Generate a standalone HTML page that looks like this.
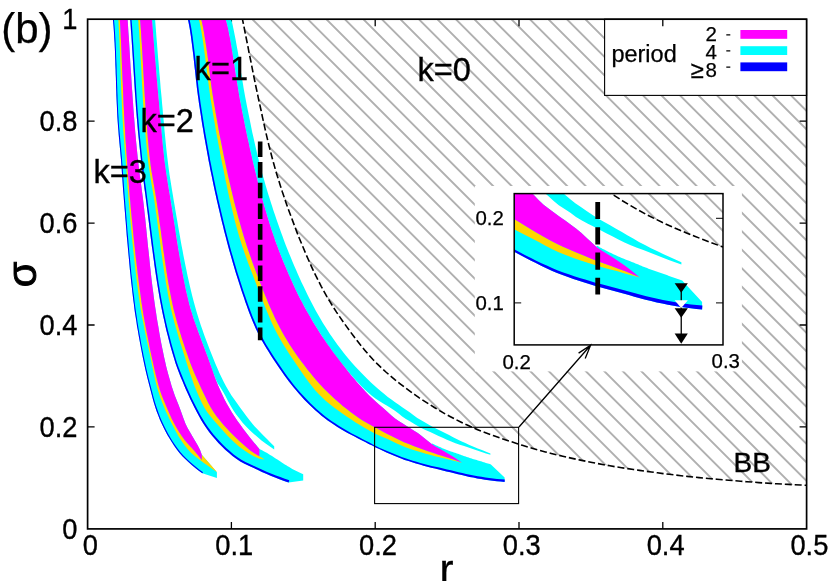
<!DOCTYPE html>
<html><head><meta charset="utf-8"><title>chart</title>
<style>html,body{margin:0;padding:0;background:#fff;}.b{stroke:#000;stroke-width:0.35px}.c{stroke:#000;stroke-width:0.25px}svg{display:block;will-change:transform;font-family:"Liberation Sans",sans-serif;}</style></head>
<body>
<svg width="830" height="581" viewBox="0 0 830 581">
<defs>
<clipPath id="cpMain"><rect x="87.60" y="19.20" width="719.00" height="509.70"/></clipPath>
<clipPath id="cpIn"><rect x="514.20" y="193.60" width="208.80" height="151.30"/></clipPath>
<clipPath id="cpH"><path d="M242.0 17.0L243.2 22.9L244.4 28.8L245.5 34.6L246.7 40.5L247.9 46.4L249.0 52.3L250.2 58.2L251.4 64.0L252.5 69.9L253.7 75.8L254.9 81.7L256.1 87.5L257.4 93.4L258.6 99.3L259.9 105.1L261.2 111.0L262.4 116.8L263.7 122.7L265.0 128.6L266.3 134.4L267.7 140.3L269.1 146.1L270.6 151.9L272.1 157.7L273.7 163.5L275.3 169.2L277.0 175.0L278.8 180.7L280.6 186.4L282.4 192.1L284.4 197.8L286.3 203.5L288.3 209.2L290.4 214.8L292.5 220.4L294.6 226.0L296.7 231.6L298.9 237.2L301.2 242.7L303.5 248.3L305.8 253.8L308.2 259.3L310.7 264.8L313.2 270.3L315.8 275.7L318.5 281.0L321.2 286.3L324.1 291.6L327.0 296.8L330.1 301.9L333.2 307.0L336.5 312.1L339.9 317.1L343.3 322.0L346.8 326.9L350.3 331.7L353.9 336.5L357.6 341.3L361.3 346.0L365.2 350.7L369.1 355.2L373.2 359.7L377.3 363.9L381.6 368.0L385.9 372.0L390.5 376.0L395.1 379.9L399.8 383.6L404.6 387.3L409.5 390.9L414.4 394.4L419.3 397.8L424.3 401.1L429.3 404.3L434.4 407.5L439.5 410.6L444.7 413.6L450.0 416.5L455.3 419.3L460.7 422.0L466.1 424.6L471.5 427.0L477.0 429.4L482.6 431.6L488.2 433.7L493.9 435.8L499.5 437.8L505.2 439.7L510.9 441.6L516.6 443.5L522.3 445.3L528.1 447.0L533.8 448.7L539.6 450.4L545.4 451.9L551.2 453.4L557.0 454.9L562.8 456.2L568.7 457.6L574.5 458.9L580.4 460.1L586.3 461.3L592.1 462.5L598.0 463.6L603.9 464.7L609.9 465.8L615.8 466.8L621.7 467.7L627.6 468.6L633.5 469.5L639.4 470.4L645.4 471.2L651.3 472.0L657.3 472.8L663.2 473.6L669.2 474.3L675.1 475.0L681.1 475.7L687.1 476.4L693.0 477.0L699.0 477.6L704.9 478.1L710.9 478.7L716.9 479.2L722.8 479.7L728.8 480.2L734.8 480.7L740.8 481.2L746.7 481.7L752.7 482.1L758.7 482.6L764.7 483.0L770.7 483.4L776.6 483.8L782.6 484.1L788.6 484.4L794.6 484.8L800.6 485.0L806.6 485.3L806.6 17.2Z"/></clipPath>
<clipPath id="cpHi"><path d="M320.8 -462.2L322.5 -452.4L324.2 -442.6L325.9 -432.9L327.6 -423.1L329.3 -413.4L331.0 -403.6L332.7 -393.8L334.4 -384.1L336.1 -374.3L337.8 -364.6L339.6 -354.8L341.3 -345.1L343.1 -335.3L345.0 -325.6L346.8 -315.9L348.6 -306.2L350.5 -296.4L352.3 -286.7L354.2 -277.0L356.1 -267.2L358.1 -257.6L360.1 -247.9L362.3 -238.2L364.5 -228.6L366.8 -219.1L369.1 -209.5L371.6 -200.0L374.2 -190.5L376.8 -181.0L379.5 -171.5L382.3 -162.0L385.2 -152.6L388.1 -143.2L391.0 -133.8L394.1 -124.5L397.1 -115.2L400.2 -106.0L403.4 -96.7L406.7 -87.5L410.0 -78.3L413.4 -69.1L416.9 -59.9L420.5 -50.8L424.2 -41.8L428.0 -32.8L431.9 -23.9L435.9 -15.1L439.9 -6.4L444.2 2.2L448.7 10.8L453.3 19.3L458.0 27.7L462.9 36.0L467.9 44.2L472.9 52.3L478.0 60.3L483.2 68.2L488.6 76.2L494.0 84.0L499.6 91.7L505.4 99.3L511.2 106.6L517.2 113.7L523.4 120.5L529.8 127.2L536.4 133.7L543.1 140.1L549.9 146.4L556.9 152.5L563.9 158.4L571.1 164.2L578.2 169.9L585.4 175.4L592.7 180.7L600.1 186.0L607.6 191.1L615.2 196.1L622.8 201.0L630.6 205.6L638.3 210.1L646.2 214.4L654.1 218.4L662.1 222.3L670.2 226.0L678.3 229.6L686.5 233.0L694.7 236.3L703.0 239.5L711.2 242.6L719.5 245.7L727.8 248.7L736.2 251.6L744.5 254.4L752.9 257.1L761.3 259.7L769.7 262.2L778.2 264.6L786.6 266.9L795.1 269.1L803.6 271.2L812.1 273.3L820.7 275.3L829.2 277.3L837.8 279.2L846.3 281.0L854.9 282.7L863.5 284.4L872.1 286.0L880.7 287.5L889.3 289.0L897.9 290.4L906.5 291.8L915.1 293.1L923.8 294.4L932.4 295.7L941.1 296.9L949.7 298.1L958.4 299.2L967.0 300.3L975.7 301.3L984.3 302.3L993.0 303.2L1001.7 304.1L1010.3 305.0L1019.0 305.9L1027.7 306.7L1036.3 307.5L1045.0 308.3L1053.7 309.1L1062.4 309.9L1071.0 310.6L1079.7 311.3L1088.4 311.9L1097.1 312.6L1105.8 313.2L1114.5 313.7L1123.2 314.2L1131.9 314.7L1140.6 315.1L1140.6 -461.8Z"/></clipPath>
</defs>
<rect width="830" height="581" fill="#fff"/>
<g clip-path="url(#cpMain)">
<g clip-path="url(#cpH)"><path d="M-451.40 0.00L148.60 600.00M-432.90 0.00L167.10 600.00M-414.40 0.00L185.60 600.00M-395.90 0.00L204.10 600.00M-377.40 0.00L222.60 600.00M-358.90 0.00L241.10 600.00M-340.40 0.00L259.60 600.00M-321.90 0.00L278.10 600.00M-303.40 0.00L296.60 600.00M-284.90 0.00L315.10 600.00M-266.40 0.00L333.60 600.00M-247.90 0.00L352.10 600.00M-229.40 0.00L370.60 600.00M-210.90 0.00L389.10 600.00M-192.40 0.00L407.60 600.00M-173.90 0.00L426.10 600.00M-155.40 0.00L444.60 600.00M-136.90 0.00L463.10 600.00M-118.40 0.00L481.60 600.00M-99.90 0.00L500.10 600.00M-81.40 0.00L518.60 600.00M-62.90 0.00L537.10 600.00M-44.40 0.00L555.60 600.00M-25.90 0.00L574.10 600.00M-7.40 0.00L592.60 600.00M11.10 0.00L611.10 600.00M29.60 0.00L629.60 600.00M48.10 0.00L648.10 600.00M66.60 0.00L666.60 600.00M85.10 0.00L685.10 600.00M103.60 0.00L703.60 600.00M122.10 0.00L722.10 600.00M140.60 0.00L740.60 600.00M159.10 0.00L759.10 600.00M177.60 0.00L777.60 600.00M196.10 0.00L796.10 600.00M214.60 0.00L814.60 600.00M233.10 0.00L833.10 600.00M251.60 0.00L851.60 600.00M270.10 0.00L870.10 600.00M288.60 0.00L888.60 600.00M307.10 0.00L907.10 600.00M325.60 0.00L925.60 600.00M344.10 0.00L944.10 600.00M362.60 0.00L962.60 600.00M381.10 0.00L981.10 600.00M399.60 0.00L999.60 600.00M418.10 0.00L1018.10 600.00M436.60 0.00L1036.60 600.00M455.10 0.00L1055.10 600.00M473.60 0.00L1073.60 600.00M492.10 0.00L1092.10 600.00M510.60 0.00L1110.60 600.00M529.10 0.00L1129.10 600.00M547.60 0.00L1147.60 600.00M566.10 0.00L1166.10 600.00M584.60 0.00L1184.60 600.00M603.10 0.00L1203.10 600.00M621.60 0.00L1221.60 600.00M640.10 0.00L1240.10 600.00M658.60 0.00L1258.60 600.00M677.10 0.00L1277.10 600.00M695.60 0.00L1295.60 600.00M714.10 0.00L1314.10 600.00M732.60 0.00L1332.60 600.00M751.10 0.00L1351.10 600.00M769.60 0.00L1369.60 600.00M788.10 0.00L1388.10 600.00M806.60 0.00L1406.60 600.00M825.10 0.00L1425.10 600.00M843.60 0.00L1443.60 600.00M862.10 0.00L1462.10 600.00M880.60 0.00L1480.60 600.00M899.10 0.00L1499.10 600.00" stroke="#b0b0b0" stroke-width="1.9" fill="none"/></g>
</g>
<rect x="604.6" y="19.20" width="202.00" height="76.20" fill="#fff" stroke="#000" stroke-width="1.1"/>
<path d="M231.40 528.90v-7M231.40 19.20v7M375.20 528.90v-7M375.20 19.20v7M519.00 528.90v-7M519.00 19.20v7M662.80 528.90v-7M662.80 19.20v7M87.60 426.96h7M806.60 426.96h-7M87.60 325.02h7M806.60 325.02h-7M87.60 223.08h7M806.60 223.08h-7M87.60 121.14h7M806.60 121.14h-7" stroke="#000" stroke-width="1.3" fill="none"/>
<g clip-path="url(#cpMain)">
<path d="M187.3 17.0L188.2 20.8L189.0 24.7L189.7 28.6L190.3 32.4L190.9 36.3L191.4 40.2L191.9 44.1L192.4 48.0L192.9 52.0L193.4 55.9L193.8 59.8L194.2 63.7L194.6 67.6L195.1 71.6L195.5 75.5L195.9 79.4L196.4 83.3L196.8 87.3L197.3 91.2L197.8 95.1L198.4 99.0L198.9 102.9L199.5 106.8L200.1 110.7L200.7 114.6L201.3 118.5L201.9 122.4L202.5 126.3L203.2 130.1L203.8 134.0L204.5 137.9L205.2 141.8L205.9 145.7L206.6 149.6L207.3 153.4L208.0 157.3L208.7 161.2L209.5 165.0L210.2 168.9L211.0 172.8L211.8 176.6L212.6 180.5L213.4 184.4L214.2 188.2L215.0 192.1L215.9 195.9L216.7 199.8L217.6 203.6L218.5 207.5L219.4 211.3L220.3 215.2L221.2 219.0L222.1 222.8L223.1 226.6L224.0 230.5L225.0 234.3L226.0 238.1L227.0 241.9L228.0 245.7L229.0 249.5L230.1 253.3L231.2 257.1L232.3 260.9L233.4 264.7L234.5 268.5L235.6 272.2L236.8 276.0L238.0 279.8L239.2 283.5L240.4 287.3L241.6 291.0L242.9 294.7L244.2 298.5L245.4 302.2L246.8 305.9L248.1 309.7L249.5 313.4L250.9 317.1L252.4 320.7L253.9 324.3L255.5 327.9L257.2 331.4L258.9 334.9L260.8 338.4L262.7 341.9L264.6 345.3L266.7 348.7L268.8 352.1L270.9 355.4L273.0 358.7L275.2 362.0L277.4 365.3L279.6 368.6L281.9 371.8L284.1 375.0L286.5 378.2L288.9 381.4L291.3 384.5L293.7 387.6L296.3 390.6L298.8 393.6L301.5 396.5L304.1 399.4L306.9 402.2L309.7 405.0L312.6 407.8L315.5 410.5L318.5 413.1L321.5 415.7L324.5 418.1L327.7 420.4L330.8 422.6L334.1 424.8L337.4 426.9L340.7 428.9L344.1 430.9L347.6 432.9L351.1 434.8L354.6 436.6L358.1 438.5L361.6 440.3L365.2 442.1L368.7 443.9L372.3 445.6L375.8 447.4L379.3 449.1L382.9 450.8L386.5 452.4L390.1 454.0L393.7 455.5L397.4 457.1L401.1 458.5L404.7 459.9L408.5 461.1L412.2 462.3L416.0 463.5L419.8 464.6L423.6 465.7L427.4 466.7L431.2 467.7L435.0 468.6L438.9 469.6L442.7 470.5L446.5 471.4L450.4 472.3L454.2 473.2L458.0 474.2L461.8 475.1L465.7 476.0L469.5 476.9L473.4 477.6L477.3 478.4L481.1 479.0L485.0 479.7L488.9 480.2L492.8 480.7L496.8 481.2L500.7 481.6L504.6 482.0L504.6 477.4L490.9 464.4L489.9 464.1L488.9 463.8L487.9 463.5L486.9 463.2L485.9 462.9L484.8 462.6L483.8 462.2L482.8 461.9L481.8 461.6L480.8 461.3L479.8 461.0L478.8 460.7L477.8 460.4L476.8 460.1L475.8 459.8L474.8 459.5L473.7 459.2L472.7 458.9L471.7 458.6L470.7 458.3L469.7 457.9L468.7 457.6L467.7 457.3L466.7 457.0L465.7 456.6L464.7 456.3L463.7 455.9L462.7 455.6L461.7 455.2L460.7 454.8L459.7 454.5L458.8 454.1L457.8 453.8L456.8 453.4L455.8 453.1L454.8 452.8L453.8 452.4L452.8 452.1L451.8 451.7L450.8 451.4L449.8 451.0L448.8 450.7L447.8 450.3L446.8 449.9L445.8 449.5L444.9 449.2L443.9 448.8L442.9 448.4L441.9 448.0L441.0 447.5L440.0 447.1L439.0 446.7L438.1 446.3L437.1 445.8L436.2 445.4L435.2 444.9L434.3 444.5L433.3 444.0L432.4 443.5L431.7 444.1L428.2 441.3L424.8 438.5L421.4 435.7L417.8 433.1L414.1 430.7L410.3 428.3L406.6 426.0L402.8 423.6L399.1 421.2L395.4 418.8L392.0 415.9L388.7 413.0L385.4 410.0L382.0 407.1L378.7 404.2L375.4 401.3L372.2 398.3L369.0 395.2L365.9 392.0L362.9 388.8L360.0 385.5L357.0 382.2L354.2 378.8L351.3 375.4L348.5 372.0L345.8 368.5L343.0 365.0L340.3 361.5L337.6 358.0L334.9 354.5L332.3 350.9L329.7 347.3L327.1 343.7L324.6 340.1L322.1 336.4L319.7 332.7L317.4 329.0L315.0 325.2L312.7 321.4L310.5 317.6L308.3 313.8L306.1 309.9L303.9 306.0L301.9 302.1L299.8 298.2L297.8 294.2L295.9 290.3L294.0 286.3L292.2 282.3L290.4 278.2L288.6 274.2L286.8 270.1L285.1 266.0L283.4 261.9L281.7 257.8L280.1 253.7L278.5 249.5L277.0 245.4L275.4 241.2L274.0 237.0L272.6 232.9L271.2 228.7L269.8 224.5L268.5 220.3L267.2 216.0L266.0 211.8L264.7 207.6L263.5 203.3L262.3 199.0L261.2 194.7L260.0 190.5L258.9 186.2L257.8 181.9L256.7 177.6L255.7 173.3L254.6 169.0L253.6 164.7L252.6 160.4L251.6 156.0L250.6 151.7L249.6 147.4L248.7 143.1L247.7 138.8L246.8 134.4L245.9 130.1L245.0 125.8L244.2 121.4L243.3 117.1L242.4 112.7L241.6 108.4L240.8 104.0L239.9 99.7L239.1 95.3L238.4 91.0L237.7 86.6L237.0 82.2L236.3 77.9L235.6 73.5L234.9 69.1L234.3 64.7L233.6 60.3L232.9 56.0L232.2 51.6L231.5 47.2L230.8 42.9L230.0 38.5L229.1 34.2L228.3 29.8L227.3 25.5L226.2 21.3L225.0 17.0Z" fill="#00ffff"/>
<path d="M225.0 17.0L226.3 21.4L227.4 25.9L228.4 30.4L229.3 34.8L230.1 39.4L230.9 43.9L231.7 48.4L232.4 52.9L233.2 57.5L233.9 62.0L234.6 66.6L235.3 71.1L235.9 75.7L236.6 80.3L237.4 84.8L238.1 89.3L238.9 93.9L239.7 98.4L240.6 102.9L241.4 107.4L242.3 111.9L243.2 116.5L244.1 121.0L245.0 125.5L245.9 130.0L246.8 134.5L247.8 139.0L248.8 143.5L249.7 148.0L250.8 152.5L251.8 156.9L252.8 161.4L253.9 165.9L255.0 170.4L256.1 174.8L257.2 179.3L258.3 183.8L259.5 188.2L260.6 192.7L261.8 197.1L263.0 201.6L264.3 206.0L265.6 210.4L266.9 214.8L268.2 219.2L269.5 223.6L270.9 228.0L272.4 232.3L273.8 236.7L275.4 241.0L276.9 245.3L278.5 249.6L280.2 253.9L281.9 258.2L283.6 262.5L285.4 266.8L287.2 271.0L289.0 275.2L290.9 279.4L292.8 283.6L294.7 287.8L296.7 291.9L298.7 296.0L300.8 300.1L303.0 304.2L305.2 308.2L307.4 312.3L309.7 316.3L312.0 320.3L314.4 324.2L316.8 328.1L319.3 332.0L321.7 335.8L324.3 339.7L326.9 343.5L329.5 347.3L332.2 351.0L335.0 354.7L337.7 358.4L340.6 362.0L343.4 365.6L346.4 369.1L349.3 372.7L352.3 376.2L355.4 379.7L358.5 383.1L361.7 386.4L365.0 389.7L368.4 392.7L371.8 395.7L375.4 398.4L379.2 400.9L383.2 403.4L387.1 405.8L391.1 408.2L394.9 410.7L398.6 413.5L402.2 416.4L405.9 419.1L409.9 421.3L413.9 423.7L417.7 426.1L421.8 428.3L426.0 430.2L430.2 432.1L434.4 434.0L438.5 435.9L442.7 437.8L446.9 439.7L451.2 441.5L455.4 443.2L459.8 444.7L464.1 446.1L468.5 447.6L472.8 449.1L477.2 450.6L481.6 452.0L486.0 453.4L490.4 454.7L490.4 453.4L486.1 451.8L481.9 450.1L477.7 448.4L473.6 446.7L469.4 445.0L465.3 443.1L461.2 441.2L457.1 439.2L453.1 437.2L449.1 435.1L445.0 433.0L441.0 431.1L436.9 429.1L432.9 427.0L428.9 424.8L425.1 422.5L421.2 420.2L417.3 417.9L413.6 415.3L410.0 412.6L406.3 410.0L402.6 407.4L398.8 404.8L395.1 402.2L391.4 399.6L387.8 396.9L384.3 394.1L380.9 391.2L377.4 388.3L374.0 385.2L370.7 382.2L367.4 379.0L364.2 375.8L361.0 372.6L357.9 369.3L354.8 366.0L351.9 362.7L348.9 359.3L346.0 355.8L343.2 352.2L340.4 348.6L337.7 345.0L335.0 341.3L332.4 337.6L329.9 333.9L327.4 330.1L325.0 326.3L322.6 322.5L320.3 318.6L318.1 314.7L315.8 310.7L313.7 306.7L311.6 302.7L309.5 298.7L307.5 294.7L305.5 290.6L303.6 286.5L301.6 282.5L299.8 278.4L297.9 274.2L296.1 270.1L294.3 265.9L292.5 261.8L290.8 257.6L289.1 253.4L287.4 249.2L285.7 245.0L284.1 240.7L282.6 236.5L281.0 232.3L279.5 228.0L278.0 223.8L276.5 219.5L275.1 215.2L273.6 210.9L272.2 206.6L270.8 202.3L269.5 198.0L268.1 193.7L266.8 189.3L265.5 185.0L264.3 180.6L263.0 176.3L261.8 171.9L260.7 167.6L259.5 163.2L258.4 158.8L257.3 154.5L256.3 150.1L255.3 145.7L254.3 141.3L253.3 136.8L252.3 132.4L251.4 128.0L250.5 123.6L249.6 119.1L248.7 114.7L247.8 110.3L246.9 105.8L246.1 101.4L245.2 97.0L244.4 92.5L243.6 88.1L242.9 83.6L242.1 79.1L241.4 74.7L240.7 70.2L240.0 65.7L239.3 61.2L238.6 56.8L237.9 52.3L237.1 47.9L236.3 43.4L235.5 39.0L234.6 34.5L233.7 30.1L232.8 25.7L231.7 21.3L230.4 17.0Z" fill="#00ffff"/>
<path d="M198.3 17.0L199.5 22.0L200.6 27.0L201.5 32.1L202.3 37.1L203.1 42.2L203.8 47.3L204.5 52.4L205.2 57.5L205.8 62.6L206.4 67.8L207.1 72.9L207.7 78.0L208.4 83.1L209.1 88.2L209.8 93.3L210.5 98.4L211.4 103.5L212.2 108.5L213.0 113.6L213.9 118.7L214.8 123.8L215.6 128.8L216.5 133.9L217.5 139.0L218.4 144.0L219.4 149.1L220.3 154.1L221.3 159.2L222.3 164.2L223.4 169.3L224.4 174.3L225.4 179.4L226.5 184.4L227.5 189.5L228.6 194.5L229.7 199.6L230.9 204.6L232.1 209.6L233.3 214.6L234.5 219.6L235.8 224.5L237.2 229.5L238.6 234.4L240.0 239.3L241.6 244.2L243.2 249.1L244.9 254.0L246.6 258.8L248.4 263.7L250.2 268.5L252.1 273.3L253.9 278.1L255.8 282.9L257.6 287.7L259.5 292.5L261.3 297.3L263.2 302.2L265.1 307.0L267.1 311.7L269.1 316.5L271.1 321.2L273.3 325.9L275.5 330.4L277.9 335.0L280.4 339.5L283.0 343.9L285.7 348.3L288.5 352.7L291.3 357.0L294.2 361.3L297.1 365.5L300.0 369.8L302.9 374.1L305.9 378.3L309.0 382.5L312.2 386.6L315.4 390.5L318.9 394.2L322.5 397.8L326.2 401.2L330.2 404.5L334.3 407.7L338.5 410.8L342.7 413.8L347.0 416.7L351.3 419.6L355.6 422.4L359.9 425.1L364.4 427.7L368.9 430.3L373.4 432.7L378.0 435.0L382.7 437.0L387.5 439.1L392.2 441.2L396.8 443.5L401.4 445.6L406.2 447.5L411.1 449.2L416.0 450.8L420.9 452.3L425.8 453.8L430.8 455.1L435.8 456.4L440.8 457.6L445.8 458.8L450.8 460.0L455.8 461.2L460.8 462.4L461.8 462.5L457.0 460.8L452.2 459.1L447.3 457.4L442.5 455.9L437.6 454.4L432.8 452.8L428.0 451.2L423.2 449.4L418.4 447.7L413.6 445.9L408.8 444.1L404.1 442.2L399.5 440.1L394.9 437.8L390.4 435.5L385.8 433.2L381.3 430.8L376.9 428.3L372.4 425.9L367.9 423.5L363.5 420.9L359.2 418.2L355.0 415.3L350.9 412.3L346.8 409.1L342.8 405.9L338.9 402.6L335.1 399.2L331.4 395.8L327.7 392.3L324.1 388.7L320.6 385.0L317.2 381.2L313.8 377.3L310.6 373.3L307.4 369.4L304.3 365.3L301.2 361.3L298.2 357.2L295.3 353.0L292.4 348.7L289.6 344.4L286.9 340.1L284.3 335.7L281.8 331.3L279.4 326.8L277.1 322.3L274.9 317.7L272.8 313.1L270.7 308.4L268.6 303.7L266.7 299.0L264.7 294.3L262.8 289.6L261.0 284.8L259.1 280.1L257.3 275.3L255.5 270.6L253.7 265.8L252.0 261.0L250.3 256.1L248.6 251.3L247.0 246.5L245.4 241.6L243.9 236.8L242.5 231.9L241.0 227.0L239.7 222.1L238.3 217.2L237.0 212.3L235.7 207.4L234.4 202.4L233.2 197.5L232.0 192.5L230.8 187.5L229.7 182.6L228.5 177.6L227.4 172.6L226.3 167.6L225.3 162.7L224.2 157.7L223.2 152.7L222.2 147.7L221.2 142.7L220.2 137.7L219.2 132.7L218.3 127.7L217.4 122.7L216.5 117.6L215.6 112.6L214.8 107.6L213.9 102.6L213.1 97.5L212.3 92.5L211.6 87.5L210.9 82.4L210.2 77.3L209.6 72.3L209.0 67.2L208.3 62.1L207.7 57.1L207.0 52.0L206.3 47.0L205.5 41.9L204.7 36.9L203.9 31.9L203.0 26.9L201.9 21.9L200.6 17.0Z" fill="#ffd700"/>
<path d="M200.6 17.0L201.9 21.9L203.0 26.9L203.9 31.9L204.7 36.9L205.5 41.9L206.3 47.0L207.0 52.0L207.7 57.1L208.3 62.1L209.0 67.2L209.6 72.3L210.2 77.3L210.9 82.4L211.6 87.5L212.3 92.5L213.1 97.5L213.9 102.6L214.8 107.6L215.6 112.6L216.5 117.6L217.4 122.7L218.3 127.7L219.2 132.7L220.2 137.7L221.2 142.7L222.2 147.7L223.2 152.7L224.2 157.7L225.3 162.7L226.3 167.6L227.4 172.6L228.5 177.6L229.7 182.6L230.8 187.5L232.0 192.5L233.2 197.5L234.4 202.4L235.7 207.4L237.0 212.3L238.3 217.2L239.7 222.1L241.0 227.0L242.5 231.9L243.9 236.8L245.4 241.6L247.0 246.5L248.6 251.3L250.3 256.1L252.0 261.0L253.7 265.8L255.5 270.6L257.3 275.3L259.1 280.1L261.0 284.8L262.8 289.6L264.7 294.3L266.7 299.0L268.6 303.7L270.7 308.4L272.8 313.1L274.9 317.7L277.1 322.3L279.4 326.8L281.8 331.3L284.3 335.7L286.9 340.1L289.6 344.4L292.4 348.7L295.3 353.0L298.2 357.2L301.2 361.3L304.3 365.3L307.4 369.4L310.6 373.3L313.8 377.3L317.2 381.2L320.6 385.0L324.1 388.7L327.7 392.3L331.4 395.8L335.1 399.2L338.9 402.6L342.8 405.9L346.8 409.1L350.9 412.3L355.0 415.3L359.2 418.2L363.5 420.9L367.9 423.5L372.4 425.9L376.9 428.3L381.3 430.8L385.8 433.2L390.4 435.5L394.9 437.8L399.5 440.1L404.1 442.2L408.8 444.1L413.6 445.9L418.4 447.7L423.2 449.4L428.0 451.2L432.8 452.8L437.6 454.4L442.5 455.9L447.3 457.4L452.2 459.1L457.0 460.8L461.8 462.5L461.8 462.6L458.2 460.0L454.5 457.5L450.8 455.2L447.0 452.9L443.2 450.7L439.3 448.5L435.4 446.4L431.7 444.1L428.2 441.3L424.8 438.5L421.4 435.7L417.8 433.1L414.1 430.7L410.3 428.3L406.6 426.0L402.8 423.6L399.1 421.2L395.4 418.8L392.0 415.9L388.7 413.0L385.4 410.0L382.0 407.1L378.7 404.2L375.4 401.3L372.2 398.3L369.0 395.2L365.9 392.0L362.9 388.8L360.0 385.5L357.0 382.2L354.2 378.8L351.3 375.4L348.5 372.0L345.8 368.5L343.0 365.0L340.3 361.5L337.6 358.0L334.9 354.5L332.3 350.9L329.7 347.3L327.1 343.7L324.6 340.1L322.1 336.4L319.7 332.7L317.4 329.0L315.0 325.2L312.7 321.4L310.5 317.6L308.3 313.8L306.1 309.9L303.9 306.0L301.9 302.1L299.8 298.2L297.8 294.2L295.9 290.3L294.0 286.3L292.2 282.3L290.4 278.2L288.6 274.2L286.8 270.1L285.1 266.0L283.4 261.9L281.7 257.8L280.1 253.7L278.5 249.5L277.0 245.4L275.4 241.2L274.0 237.0L272.6 232.9L271.2 228.7L269.8 224.5L268.5 220.3L267.2 216.0L266.0 211.8L264.7 207.6L263.5 203.3L262.3 199.0L261.2 194.7L260.0 190.5L258.9 186.2L257.8 181.9L256.7 177.6L255.7 173.3L254.6 169.0L253.6 164.7L252.6 160.4L251.6 156.0L250.6 151.7L249.6 147.4L248.7 143.1L247.7 138.8L246.8 134.4L245.9 130.1L245.0 125.8L244.2 121.4L243.3 117.1L242.4 112.7L241.6 108.4L240.8 104.0L239.9 99.7L239.1 95.3L238.4 91.0L237.7 86.6L237.0 82.2L236.3 77.9L235.6 73.5L234.9 69.1L234.3 64.7L233.6 60.3L232.9 56.0L232.2 51.6L231.5 47.2L230.8 42.9L230.0 38.5L229.1 34.2L228.3 29.8L227.3 25.5L226.2 21.3L225.0 17.0Z" fill="#ff00ff"/>
<path d="M187.3 17.0L188.2 20.8L189.0 24.7L189.7 28.6L190.3 32.4L190.9 36.3L191.4 40.2L191.9 44.1L192.4 48.0L192.9 52.0L193.4 55.9L193.8 59.8L194.2 63.7L194.6 67.6L195.1 71.6L195.5 75.5L195.9 79.4L196.4 83.3L196.8 87.3L197.3 91.2L197.8 95.1L198.4 99.0L198.9 102.9L199.5 106.8L200.1 110.7L200.7 114.6L201.3 118.5L201.9 122.4L202.5 126.3L203.2 130.1L203.8 134.0L204.5 137.9L205.2 141.8L205.9 145.7L206.6 149.6L207.3 153.4L208.0 157.3L208.7 161.2L209.5 165.0L210.2 168.9L211.0 172.8L211.8 176.6L212.6 180.5L213.4 184.4L214.2 188.2L215.0 192.1L215.9 195.9L216.7 199.8L217.6 203.6L218.5 207.5L219.4 211.3L220.3 215.2L221.2 219.0L222.1 222.8L223.1 226.6L224.0 230.5L225.0 234.3L226.0 238.1L227.0 241.9L228.0 245.7L229.0 249.5L230.1 253.3L231.2 257.1L232.3 260.9L233.4 264.7L234.5 268.5L235.6 272.2L236.8 276.0L238.0 279.8L239.2 283.5L240.4 287.3L241.6 291.0L242.9 294.7L244.2 298.5L245.4 302.2L246.8 305.9L248.1 309.7L249.5 313.4L250.9 317.1L252.4 320.7L253.9 324.3L255.5 327.9L257.2 331.4L258.9 334.9L260.8 338.4L262.7 341.9L264.6 345.3L266.7 348.7L268.8 352.1L270.9 355.4L273.0 358.7L275.2 362.0L277.4 365.3L279.6 368.6L281.9 371.8L284.1 375.0L286.5 378.2L288.9 381.4L291.3 384.5L293.7 387.6L296.3 390.6L298.8 393.6L301.5 396.5L304.1 399.4L306.9 402.2L309.7 405.0L312.6 407.8L315.5 410.5L318.5 413.1L321.5 415.7L324.5 418.1L327.7 420.4L330.8 422.6L334.1 424.8L337.4 426.9L340.7 428.9L344.1 430.9L347.6 432.9L351.1 434.8L354.6 436.6L358.1 438.5L361.6 440.3L365.2 442.1L368.7 443.9L372.3 445.6L375.8 447.4L379.3 449.1L382.9 450.8L386.5 452.4L390.1 454.0L393.7 455.5L397.4 457.1L401.1 458.5L404.7 459.9L408.5 461.1L412.2 462.3L416.0 463.5L419.8 464.6L423.6 465.7L427.4 466.7L431.2 467.7L435.0 468.6L438.9 469.6L442.7 470.5L446.5 471.4L450.4 472.3L454.2 473.2L458.0 474.2L461.8 475.1L465.7 476.0L469.5 476.9L473.4 477.6L477.3 478.4L481.1 479.0L485.0 479.7L488.9 480.2L492.8 480.7L496.8 481.2L500.7 481.6L504.6 482.0L504.8 479.6L500.9 479.3L497.0 478.9L493.1 478.4L489.2 478.0L485.4 477.4L481.5 476.8L477.7 476.2L473.8 475.5L470.0 474.7L466.1 473.9L462.3 473.1L458.5 472.2L454.7 471.2L450.9 470.3L447.0 469.4L443.2 468.5L439.3 467.6L435.5 466.8L431.7 465.9L427.9 464.9L424.1 463.9L420.3 462.9L416.5 461.8L412.7 460.7L409.0 459.5L405.3 458.3L401.6 457.0L398.0 455.6L394.3 454.1L390.7 452.6L387.1 451.1L383.5 449.5L379.9 447.9L376.4 446.2L372.9 444.4L369.4 442.6L365.8 440.8L362.3 439.0L358.8 437.1L355.3 435.3L351.8 433.4L348.4 431.4L345.0 429.5L341.6 427.5L338.3 425.4L335.0 423.3L331.8 421.2L328.7 419.0L325.6 416.7L322.6 414.3L319.6 411.8L316.7 409.2L313.8 406.5L310.9 403.8L308.2 401.0L305.4 398.1L302.8 395.3L300.2 392.4L297.6 389.5L295.1 386.5L292.7 383.4L290.3 380.3L287.9 377.2L285.6 374.0L283.3 370.8L281.1 367.6L278.9 364.3L276.7 361.1L274.5 357.8L272.4 354.5L270.2 351.1L268.2 347.8L266.1 344.4L264.2 341.0L262.3 337.6L260.5 334.2L258.7 330.7L257.1 327.2L255.5 323.6L254.0 320.1L252.5 316.4L251.1 312.8L249.7 309.1L248.4 305.4L247.1 301.7L245.8 297.9L244.5 294.2L243.2 290.5L242.0 286.7L240.8 283.0L239.6 279.3L238.4 275.5L237.2 271.7L236.1 268.0L235.0 264.2L233.9 260.4L232.8 256.6L231.7 252.9L230.6 249.1L229.6 245.3L228.6 241.5L227.6 237.7L226.6 233.9L225.6 230.0L224.7 226.2L223.7 222.4L222.8 218.6L221.9 214.8L221.0 210.9L220.1 207.1L219.2 203.3L218.3 199.4L217.5 195.6L216.6 191.7L215.8 187.9L215.0 184.0L214.2 180.2L213.4 176.3L212.6 172.5L211.8 168.6L211.1 164.7L210.3 160.9L209.6 157.0L208.9 153.1L208.2 149.3L207.5 145.4L206.8 141.5L206.1 137.6L205.4 133.8L204.8 129.9L204.1 126.0L203.5 122.1L202.9 118.2L202.3 114.3L201.7 110.4L201.1 106.5L200.5 102.7L200.0 98.8L199.4 94.9L198.9 91.0L198.4 87.1L198.0 83.2L197.5 79.2L197.1 75.3L196.7 71.4L196.2 67.5L195.8 63.5L195.4 59.6L195.0 55.7L194.5 51.8L194.0 47.8L193.5 43.9L193.0 40.0L192.5 36.1L191.9 32.2L191.3 28.3L190.6 24.4L189.8 20.5L188.9 16.6Z" fill="#0000ff"/>
<path d="M130.0 17.0L130.4 21.8L130.7 26.6L131.0 31.3L131.4 36.1L131.7 40.9L132.0 45.7L132.3 50.5L132.6 55.3L132.9 60.0L133.2 64.8L133.5 69.6L133.8 74.4L134.1 79.2L134.4 84.0L134.7 88.7L135.0 93.5L135.4 98.3L135.7 103.1L136.0 107.9L136.4 112.6L136.8 117.4L137.2 122.2L137.6 127.0L138.0 131.7L138.5 136.5L139.0 141.3L139.5 146.0L140.0 150.8L140.5 155.6L141.0 160.3L141.6 165.1L142.1 169.8L142.7 174.6L143.3 179.4L143.9 184.1L144.5 188.9L145.2 193.6L145.8 198.4L146.4 203.1L147.0 207.9L147.6 212.6L148.2 217.4L148.8 222.1L149.4 226.9L150.0 231.7L150.6 236.4L151.2 241.2L151.8 246.0L152.5 250.7L153.1 255.5L153.8 260.2L154.4 265.0L155.1 269.7L155.8 274.4L156.5 279.2L157.3 283.9L158.0 288.6L158.8 293.3L159.6 298.0L160.5 302.7L161.4 307.4L162.3 312.1L163.3 316.8L164.4 321.5L165.4 326.2L166.5 330.9L167.7 335.6L168.9 340.2L170.1 344.9L171.4 349.5L172.7 354.1L174.1 358.6L175.5 363.2L177.1 367.7L178.8 372.2L180.5 376.7L182.4 381.1L184.2 385.6L186.1 390.0L188.1 394.3L190.1 398.7L192.2 403.0L194.3 407.3L196.5 411.5L198.8 415.8L201.1 420.0L203.6 424.1L206.3 428.0L209.1 431.9L212.1 435.7L215.2 439.3L218.4 442.9L221.7 446.3L225.2 449.7L228.8 452.8L232.5 455.9L236.3 458.8L240.3 461.4L244.5 463.7L248.8 465.8L253.2 467.8L257.5 469.8L261.9 471.9L266.2 473.8L270.6 475.7L275.1 477.5L279.5 479.2L284.1 480.9L288.6 482.4L303.2 480.6L303.2 474.3L301.6 473.6L300.0 472.8L298.4 472.1L296.9 471.3L295.3 470.5L293.8 469.7L292.3 468.9L290.7 468.0L289.2 467.1L287.7 466.2L286.3 465.3L284.8 464.4L283.3 463.4L281.8 462.5L280.4 461.5L278.9 460.6L277.4 459.6L276.0 458.7L274.5 457.7L273.1 456.7L271.6 455.8L270.1 454.9L268.6 454.0L267.1 453.1L265.6 452.3L264.1 451.4L262.5 450.6L261.0 449.8L259.4 449.0L259.4 449.0L256.1 445.1L252.9 441.2L249.7 437.2L246.6 433.2L243.5 429.2L240.5 425.1L237.5 421.0L234.7 416.8L231.9 412.5L229.3 408.1L226.8 403.7L224.4 399.2L222.2 394.6L220.1 390.0L218.1 385.4L216.2 380.7L214.4 375.9L212.7 371.1L211.0 366.3L209.3 361.5L207.6 356.7L205.8 351.9L204.0 347.2L202.2 342.4L200.4 337.6L198.6 332.8L196.9 328.0L195.2 323.2L193.5 318.4L192.0 313.6L190.5 308.8L189.2 303.9L188.0 299.0L186.8 294.1L185.7 289.2L184.7 284.2L183.7 279.3L182.7 274.3L181.8 269.3L180.9 264.3L180.0 259.3L179.2 254.3L178.3 249.2L177.5 244.2L176.7 239.2L175.9 234.1L175.2 229.1L174.4 224.0L173.6 219.0L172.8 214.0L172.0 208.9L171.2 203.9L170.4 198.9L169.6 193.9L168.7 188.9L167.9 183.9L167.1 178.8L166.3 173.8L165.6 168.8L164.9 163.8L164.2 158.7L163.7 153.7L163.1 148.6L162.6 143.6L162.2 138.5L161.7 133.4L161.3 128.4L160.8 123.3L160.3 118.3L159.9 113.2L159.4 108.1L159.0 103.1L158.5 98.0L158.1 93.0L157.6 87.9L157.2 82.8L156.7 77.8L156.3 72.7L155.9 67.6L155.5 62.6L155.0 57.5L154.6 52.5L154.2 47.4L153.8 42.3L153.4 37.3L153.0 32.2L152.6 27.1L152.2 22.1L151.8 17.0Z" fill="#00ffff"/>
<path d="M151.8 17.0L152.2 22.2L152.6 27.4L153.0 32.5L153.4 37.7L153.8 42.9L154.2 48.1L154.7 53.2L155.1 58.4L155.5 63.6L156.0 68.8L156.4 73.9L156.9 79.1L157.3 84.3L157.8 89.5L158.2 94.6L158.7 99.8L159.1 105.0L159.6 110.1L160.1 115.3L160.5 120.5L161.0 125.7L161.5 130.8L161.9 136.0L162.4 141.2L162.9 146.4L163.4 151.5L164.0 156.7L164.6 161.8L165.3 167.0L166.0 172.1L166.8 177.2L167.7 182.4L168.5 187.5L169.4 192.6L170.2 197.7L171.1 202.9L171.9 208.0L172.7 213.1L173.5 218.3L174.3 223.4L175.1 228.6L175.9 233.7L176.7 238.9L177.5 244.0L178.3 249.2L179.2 254.3L180.0 259.4L180.9 264.6L181.9 269.7L182.8 274.8L183.8 279.9L184.8 284.9L185.9 290.0L187.0 295.0L188.2 300.0L189.5 305.0L190.9 310.0L192.4 314.9L194.0 319.9L195.7 324.8L197.5 329.7L199.3 334.6L201.1 339.5L202.9 344.3L204.8 349.2L206.6 354.1L208.4 359.0L210.2 363.9L211.8 368.8L213.6 373.8L215.5 378.6L217.6 383.2L220.5 387.6L223.2 392.0L225.7 396.6L228.1 401.2L230.6 405.8L233.3 410.2L236.2 414.4L239.4 418.6L242.6 422.7L246.1 426.5L249.8 430.2L253.6 433.7L257.5 437.1L261.5 440.4L265.6 443.6L269.9 446.6L274.2 449.5L274.2 446.3L270.6 442.7L267.0 439.0L263.4 435.4L259.8 431.8L256.2 428.1L252.8 424.3L249.6 420.3L246.5 416.2L243.4 412.1L240.4 408.0L237.4 403.8L234.4 399.6L231.5 395.4L228.8 391.1L226.3 386.7L223.9 382.2L221.6 377.6L219.4 372.9L217.4 368.2L215.3 363.5L213.4 358.8L211.5 354.0L209.6 349.3L207.8 344.5L206.0 339.7L204.2 334.9L202.5 330.0L200.8 325.2L199.2 320.3L197.7 315.4L196.2 310.5L194.8 305.6L193.5 300.7L192.2 295.7L191.0 290.8L189.8 285.8L188.7 280.8L187.6 275.9L186.6 270.9L185.5 265.8L184.5 260.8L183.5 255.8L182.6 250.8L181.6 245.7L180.7 240.7L179.8 235.6L178.9 230.5L178.0 225.5L177.2 220.4L176.3 215.4L175.4 210.3L174.6 205.3L173.7 200.2L172.9 195.2L172.0 190.1L171.2 185.1L170.4 180.0L169.6 175.0L168.9 169.9L168.2 164.8L167.6 159.7L167.0 154.7L166.4 149.6L165.9 144.5L165.4 139.4L164.9 134.3L164.4 129.2L164.0 124.1L163.5 119.0L163.0 113.9L162.6 108.8L162.1 103.7L161.7 98.6L161.2 93.5L160.7 88.4L160.3 83.3L159.9 78.2L159.4 73.1L159.0 68.0L158.6 62.9L158.1 57.8L157.7 52.7L157.3 47.6L156.9 42.5L156.5 37.4L156.1 32.3L155.7 27.2L155.3 22.1L154.9 17.0Z" fill="#00ffff"/>
<path d="M137.9 17.0L138.4 22.4L138.8 27.7L139.2 33.1L139.5 38.5L139.9 43.8L140.2 49.2L140.5 54.6L140.8 60.0L141.1 65.3L141.4 70.7L141.6 76.1L141.9 81.5L142.2 86.8L142.5 92.2L142.8 97.6L143.1 102.9L143.5 108.3L143.8 113.7L144.2 119.0L144.6 124.4L145.1 129.8L145.5 135.1L146.0 140.5L146.5 145.9L147.0 151.2L147.6 156.6L148.2 161.9L148.9 167.2L149.7 172.6L150.6 177.9L151.4 183.2L152.3 188.5L153.2 193.8L154.1 199.1L154.9 204.5L155.6 209.8L156.4 215.1L157.1 220.5L157.8 225.8L158.6 231.2L159.3 236.5L160.0 241.8L160.7 247.2L161.4 252.5L162.2 257.9L162.9 263.2L163.7 268.5L164.5 273.8L165.4 279.2L166.2 284.4L167.2 289.7L168.1 295.0L169.2 300.3L170.3 305.5L171.4 310.7L172.7 316.0L174.1 321.2L175.5 326.4L177.0 331.5L178.5 336.7L180.1 341.9L181.7 347.1L183.3 352.2L184.9 357.3L186.5 362.5L188.1 367.6L189.8 372.7L191.6 377.8L193.4 382.9L195.3 387.9L197.4 392.9L199.5 397.8L201.8 402.8L204.3 407.5L207.1 412.0L210.4 416.3L213.9 420.4L217.5 424.4L221.0 428.5L224.6 432.6L228.3 436.5L232.1 440.2L236.1 443.9L240.2 447.4L244.5 450.6L249.0 453.5L253.7 456.2L258.7 458.4L263.9 459.6L263.9 458.9L259.3 456.2L254.7 453.5L250.3 450.5L246.2 447.1L242.2 443.6L238.3 439.9L234.4 436.3L230.6 432.5L226.9 428.6L223.4 424.7L220.0 420.6L216.7 416.4L213.6 412.0L210.8 407.5L208.3 402.9L205.9 398.1L203.6 393.2L201.3 388.4L199.1 383.6L196.9 378.7L194.7 373.8L192.7 368.9L190.7 363.9L188.9 358.9L187.2 353.9L185.4 348.9L183.7 343.8L182.0 338.7L180.4 333.6L178.9 328.5L177.4 323.4L176.0 318.2L174.6 313.0L173.3 307.9L172.2 302.7L171.1 297.5L170.1 292.3L169.1 287.1L168.2 281.9L167.3 276.6L166.5 271.4L165.7 266.1L164.9 260.8L164.2 255.5L163.4 250.2L162.7 245.0L162.0 239.7L161.3 234.4L160.6 229.1L159.8 223.8L159.1 218.5L158.4 213.2L157.6 207.9L156.8 202.6L156.0 197.4L155.1 192.1L154.2 186.8L153.3 181.6L152.4 176.3L151.5 171.1L150.7 165.8L150.1 160.5L149.5 155.2L148.9 149.9L148.4 144.6L147.9 139.3L147.5 134.0L147.1 128.7L146.7 123.4L146.3 118.1L145.9 112.7L145.5 107.4L145.2 102.1L144.8 96.8L144.5 91.5L144.2 86.1L143.9 80.8L143.6 75.5L143.3 70.2L143.0 64.9L142.7 59.5L142.4 54.2L142.1 48.9L141.8 43.6L141.4 38.3L141.1 32.9L140.7 27.6L140.3 22.3L139.8 17.0Z" fill="#ffd700"/>
<path d="M139.8 17.0L140.3 22.3L140.7 27.6L141.1 32.9L141.4 38.3L141.8 43.6L142.1 48.9L142.4 54.2L142.7 59.5L143.0 64.9L143.3 70.2L143.6 75.5L143.9 80.8L144.2 86.1L144.5 91.5L144.8 96.8L145.2 102.1L145.5 107.4L145.9 112.7L146.3 118.1L146.7 123.4L147.1 128.7L147.5 134.0L147.9 139.3L148.4 144.6L148.9 149.9L149.5 155.2L150.1 160.5L150.7 165.8L151.5 171.1L152.4 176.3L153.3 181.6L154.2 186.8L155.1 192.1L156.0 197.4L156.8 202.6L157.6 207.9L158.4 213.2L159.1 218.5L159.8 223.8L160.6 229.1L161.3 234.4L162.0 239.7L162.7 245.0L163.4 250.2L164.2 255.5L164.9 260.8L165.7 266.1L166.5 271.4L167.3 276.6L168.2 281.9L169.1 287.1L170.1 292.3L171.1 297.5L172.2 302.7L173.3 307.9L174.6 313.0L176.0 318.2L177.4 323.4L178.9 328.5L180.4 333.6L182.0 338.7L183.7 343.8L185.4 348.9L187.2 353.9L188.9 358.9L190.7 363.9L192.7 368.9L194.7 373.8L196.9 378.7L199.1 383.6L201.3 388.4L203.6 393.2L205.9 398.1L208.3 402.9L210.8 407.5L213.6 412.0L216.7 416.4L220.0 420.6L223.4 424.7L226.9 428.6L230.6 432.5L234.4 436.3L238.3 439.9L242.2 443.6L246.2 447.1L250.3 450.5L254.7 453.5L259.3 456.2L259.4 449.0L256.1 445.1L252.9 441.2L249.7 437.2L246.6 433.2L243.5 429.2L240.5 425.1L237.5 421.0L234.7 416.8L231.9 412.5L229.3 408.1L226.8 403.7L224.4 399.2L222.2 394.6L220.1 390.0L218.1 385.4L216.2 380.7L214.4 375.9L212.7 371.1L211.0 366.3L209.3 361.5L207.6 356.7L205.8 351.9L204.0 347.2L202.2 342.4L200.4 337.6L198.6 332.8L196.9 328.0L195.2 323.2L193.5 318.4L192.0 313.6L190.5 308.8L189.2 303.9L188.0 299.0L186.8 294.1L185.7 289.2L184.7 284.2L183.7 279.3L182.7 274.3L181.8 269.3L180.9 264.3L180.0 259.3L179.2 254.3L178.3 249.2L177.5 244.2L176.7 239.2L175.9 234.1L175.2 229.1L174.4 224.0L173.6 219.0L172.8 214.0L172.0 208.9L171.2 203.9L170.4 198.9L169.6 193.9L168.7 188.9L167.9 183.9L167.1 178.8L166.3 173.8L165.6 168.8L164.9 163.8L164.2 158.7L163.7 153.7L163.1 148.6L162.6 143.6L162.2 138.5L161.7 133.4L161.3 128.4L160.8 123.3L160.3 118.3L159.9 113.2L159.4 108.1L159.0 103.1L158.5 98.0L158.1 93.0L157.6 87.9L157.2 82.8L156.7 77.8L156.3 72.7L155.9 67.6L155.5 62.6L155.0 57.5L154.6 52.5L154.2 47.4L153.8 42.3L153.4 37.3L153.0 32.2L152.6 27.1L152.2 22.1L151.8 17.0Z" fill="#ff00ff"/>
<path d="M130.0 17.0L130.4 21.8L130.7 26.6L131.0 31.3L131.4 36.1L131.7 40.9L132.0 45.7L132.3 50.5L132.6 55.3L132.9 60.0L133.2 64.8L133.5 69.6L133.8 74.4L134.1 79.2L134.4 84.0L134.7 88.7L135.0 93.5L135.4 98.3L135.7 103.1L136.0 107.9L136.4 112.6L136.8 117.4L137.2 122.2L137.6 127.0L138.0 131.7L138.5 136.5L139.0 141.3L139.5 146.0L140.0 150.8L140.5 155.6L141.0 160.3L141.6 165.1L142.1 169.8L142.7 174.6L143.3 179.4L143.9 184.1L144.5 188.9L145.2 193.6L145.8 198.4L146.4 203.1L147.0 207.9L147.6 212.6L148.2 217.4L148.8 222.1L149.4 226.9L150.0 231.7L150.6 236.4L151.2 241.2L151.8 246.0L152.5 250.7L153.1 255.5L153.8 260.2L154.4 265.0L155.1 269.7L155.8 274.4L156.5 279.2L157.3 283.9L158.0 288.6L158.8 293.3L159.6 298.0L160.5 302.7L161.4 307.4L162.3 312.1L163.3 316.8L164.4 321.5L165.4 326.2L166.5 330.9L167.7 335.6L168.9 340.2L170.1 344.9L171.4 349.5L172.7 354.1L174.1 358.6L175.5 363.2L177.1 367.7L178.8 372.2L180.5 376.7L182.4 381.1L184.2 385.6L186.1 390.0L188.1 394.3L190.1 398.7L192.2 403.0L194.3 407.3L196.5 411.5L198.8 415.8L201.1 420.0L203.6 424.1L206.3 428.0L209.1 431.9L212.1 435.7L215.2 439.3L218.4 442.9L221.7 446.3L225.2 449.7L228.8 452.8L232.5 455.9L236.3 458.8L240.3 461.4L244.5 463.7L248.8 465.8L253.2 467.8L257.5 469.8L261.9 471.9L266.2 473.8L270.6 475.7L275.1 477.5L279.5 479.2L284.1 480.9L288.6 482.4L289.3 480.2L284.8 478.7L280.3 477.1L275.9 475.5L271.5 473.7L267.1 471.9L262.8 469.9L258.4 467.9L254.0 465.9L249.7 463.9L245.4 461.9L241.3 459.7L237.5 457.2L233.7 454.4L230.0 451.3L226.5 448.2L223.1 445.0L219.8 441.6L216.6 438.1L213.5 434.5L210.6 430.8L207.8 427.0L205.1 423.1L202.7 419.1L200.3 414.9L198.1 410.7L195.9 406.5L193.7 402.2L191.6 397.9L189.6 393.6L187.7 389.3L185.8 384.9L183.9 380.5L182.1 376.1L180.3 371.6L178.6 367.2L177.0 362.7L175.6 358.2L174.2 353.6L172.9 349.1L171.6 344.5L170.4 339.8L169.2 335.2L168.0 330.6L166.9 325.9L165.8 321.2L164.8 316.5L163.8 311.8L162.9 307.2L162.0 302.5L161.1 297.8L160.3 293.1L159.5 288.4L158.7 283.7L158.0 279.0L157.3 274.2L156.6 269.5L155.9 264.8L155.2 260.0L154.6 255.3L153.9 250.5L153.3 245.8L152.7 241.0L152.1 236.3L151.5 231.5L150.9 226.7L150.3 222.0L149.7 217.2L149.1 212.4L148.4 207.7L147.8 202.9L147.2 198.2L146.6 193.4L146.0 188.7L145.3 183.9L144.7 179.2L144.1 174.4L143.6 169.7L143.0 164.9L142.4 160.2L141.9 155.4L141.4 150.6L140.9 145.9L140.4 141.1L139.9 136.4L139.4 131.6L139.0 126.8L138.6 122.1L138.2 117.3L137.8 112.5L137.4 107.7L137.1 103.0L136.7 98.2L136.4 93.4L136.1 88.6L135.8 83.9L135.5 79.1L135.2 74.3L134.9 69.5L134.6 64.7L134.3 59.9L134.0 55.2L133.7 50.4L133.4 45.6L133.0 40.8L132.7 36.0L132.4 31.2L132.1 26.5L131.7 21.7L131.3 16.9Z" fill="#0000ff"/>
<path d="M112.6 17.0L113.1 21.3L113.5 25.7L113.8 30.0L114.1 34.4L114.3 38.7L114.6 43.1L114.8 47.5L115.0 51.8L115.1 56.2L115.3 60.5L115.4 64.9L115.6 69.3L115.7 73.7L115.9 78.0L116.0 82.4L116.1 86.8L116.3 91.1L116.4 95.5L116.6 99.9L116.8 104.2L117.0 108.6L117.2 112.9L117.4 117.3L117.7 121.7L118.0 126.0L118.4 130.4L118.7 134.7L119.1 139.1L119.5 143.4L119.9 147.8L120.3 152.1L120.7 156.5L121.1 160.8L121.4 165.2L121.7 169.5L122.0 173.9L122.3 178.2L122.6 182.6L122.9 187.0L123.2 191.3L123.6 195.7L123.9 200.0L124.3 204.4L124.6 208.7L125.0 213.1L125.3 217.4L125.7 221.8L126.0 226.1L126.4 230.5L126.7 234.9L127.1 239.2L127.5 243.6L127.9 247.9L128.3 252.3L128.7 256.6L129.1 261.0L129.5 265.3L129.9 269.7L130.4 274.0L130.8 278.3L131.3 282.7L131.8 287.0L132.3 291.4L132.8 295.7L133.3 300.0L133.9 304.3L134.4 308.7L135.0 313.0L135.7 317.3L136.4 321.6L137.0 325.9L137.8 330.3L138.5 334.6L139.3 338.9L140.1 343.2L140.9 347.5L141.7 351.8L142.5 356.0L143.4 360.3L144.3 364.6L145.2 368.8L146.2 373.1L147.2 377.3L148.3 381.6L149.4 385.8L150.5 390.0L151.6 394.3L152.7 398.5L153.9 402.7L155.2 406.9L156.5 411.0L158.1 415.1L159.7 419.2L161.5 423.2L163.3 427.1L165.3 431.0L167.4 434.9L169.6 438.6L171.9 442.3L174.3 446.0L176.8 449.6L179.5 453.0L182.4 456.2L185.5 459.3L188.7 462.3L192.0 465.2L195.3 468.0L198.8 470.7L202.3 473.3L216.9 478.0L216.9 472.2L201.8 454.8L200.1 450.1L197.8 445.6L195.3 441.2L192.8 436.9L190.2 432.5L187.7 428.2L185.5 423.7L183.7 419.0L182.0 414.2L180.3 409.5L178.5 404.8L176.6 400.1L174.8 395.4L173.2 390.7L171.6 385.9L170.2 381.1L168.8 376.3L167.5 371.4L166.2 366.5L165.1 361.6L164.0 356.7L163.0 351.8L162.0 346.9L161.0 342.0L160.1 337.0L159.2 332.1L158.4 327.1L157.5 322.1L156.7 317.2L156.0 312.2L155.2 307.2L154.5 302.2L153.8 297.3L153.2 292.3L152.5 287.3L151.9 282.3L151.3 277.3L150.8 272.3L150.2 267.3L149.7 262.3L149.2 257.3L148.7 252.3L148.1 247.3L147.6 242.3L147.1 237.3L146.6 232.3L146.1 227.3L145.6 222.3L145.1 217.3L144.5 212.3L144.0 207.3L143.4 202.3L142.8 197.3L142.1 192.3L141.5 187.3L140.8 182.3L140.1 177.4L139.5 172.4L138.9 167.4L138.3 162.4L137.7 157.4L137.2 152.4L136.7 147.4L136.2 142.4L135.8 137.4L135.3 132.4L134.9 127.4L134.5 122.4L134.1 117.3L133.7 112.3L133.3 107.3L133.0 102.3L132.6 97.3L132.3 92.3L131.9 87.3L131.6 82.2L131.3 77.2L131.0 72.2L130.6 67.2L130.3 62.2L130.0 57.1L129.7 52.1L129.4 47.1L129.1 42.1L128.8 37.1L128.4 32.1L128.1 27.0L127.8 22.0L127.5 17.0Z" fill="#00ffff"/>
<path d="M118.2 17.0L118.5 22.4L118.8 27.8L119.1 33.1L119.3 38.5L119.6 43.9L119.8 49.3L120.0 54.7L120.2 60.1L120.4 65.5L120.6 70.9L120.7 76.3L120.9 81.7L121.1 87.0L121.3 92.4L121.6 97.8L121.8 103.2L122.0 108.6L122.3 114.0L122.6 119.4L122.9 124.7L123.2 130.1L123.6 135.5L124.1 140.9L124.5 146.2L124.9 151.6L125.4 157.0L125.8 162.4L126.2 167.8L126.6 173.1L126.9 178.5L127.3 183.9L127.7 189.3L128.2 194.6L128.6 200.0L129.1 205.4L129.5 210.8L130.0 216.1L130.5 221.5L131.0 226.9L131.5 232.3L132.0 237.6L132.5 243.0L133.1 248.4L133.6 253.7L134.2 259.1L134.8 264.5L135.4 269.8L136.1 275.2L136.7 280.5L137.4 285.9L138.1 291.2L138.8 296.5L139.6 301.9L140.4 307.2L141.3 312.5L142.2 317.8L143.3 323.1L144.3 328.4L145.4 333.7L146.5 339.0L147.6 344.2L148.8 349.5L149.9 354.8L151.0 360.1L152.1 365.4L153.2 370.7L154.3 376.0L155.5 381.2L156.8 386.4L158.3 391.6L160.0 396.7L161.9 401.7L163.9 406.8L166.0 411.7L168.3 416.6L170.6 421.5L173.1 426.3L175.6 431.1L178.2 435.8L181.1 440.3L184.2 444.8L187.5 449.1L191.2 453.0L195.3 456.4L199.6 459.7L203.9 463.0L208.3 466.1L212.7 469.2L217.2 472.2L201.8 454.8L201.8 459.9L198.6 455.9L195.3 452.0L191.8 448.1L188.3 444.3L185.0 440.4L181.9 436.3L179.1 432.0L176.4 427.6L173.9 423.1L171.6 418.5L169.5 413.8L167.4 409.1L165.4 404.3L163.4 399.6L161.5 394.7L159.9 389.9L158.4 385.0L157.1 380.0L155.8 375.0L154.6 370.0L153.5 365.0L152.4 359.9L151.3 354.9L150.2 349.9L149.2 344.8L148.2 339.8L147.2 334.7L146.2 329.7L145.2 324.6L144.3 319.5L143.4 314.5L142.6 309.4L141.8 304.3L141.1 299.2L140.4 294.1L139.7 289.0L139.0 283.9L138.4 278.8L137.7 273.7L137.1 268.6L136.5 263.5L135.9 258.4L135.3 253.3L134.8 248.1L134.2 243.0L133.7 237.9L133.2 232.8L132.7 227.6L132.2 222.5L131.7 217.4L131.2 212.3L130.7 207.1L130.3 202.0L129.8 196.9L129.4 191.7L129.0 186.6L128.6 181.5L128.2 176.3L127.8 171.2L127.4 166.1L127.1 160.9L126.7 155.8L126.3 150.7L126.0 145.5L125.6 140.4L125.3 135.3L125.0 130.1L124.7 125.0L124.4 119.8L124.1 114.7L123.9 109.6L123.6 104.4L123.4 99.3L123.2 94.1L123.0 89.0L122.8 83.9L122.5 78.7L122.3 73.6L122.1 68.4L121.9 63.3L121.7 58.1L121.5 53.0L121.3 47.8L121.1 42.7L120.8 37.6L120.6 32.4L120.3 27.3L120.0 22.1L119.7 17.0Z" fill="#ffd700"/>
<path d="M119.7 17.0L120.0 22.1L120.3 27.3L120.6 32.4L120.8 37.6L121.1 42.7L121.3 47.8L121.5 53.0L121.7 58.1L121.9 63.3L122.1 68.4L122.3 73.6L122.5 78.7L122.8 83.9L123.0 89.0L123.2 94.1L123.4 99.3L123.6 104.4L123.9 109.6L124.1 114.7L124.4 119.8L124.7 125.0L125.0 130.1L125.3 135.3L125.6 140.4L126.0 145.5L126.3 150.7L126.7 155.8L127.1 160.9L127.4 166.1L127.8 171.2L128.2 176.3L128.6 181.5L129.0 186.6L129.4 191.7L129.8 196.9L130.3 202.0L130.7 207.1L131.2 212.3L131.7 217.4L132.2 222.5L132.7 227.6L133.2 232.8L133.7 237.9L134.2 243.0L134.8 248.1L135.3 253.3L135.9 258.4L136.5 263.5L137.1 268.6L137.7 273.7L138.4 278.8L139.0 283.9L139.7 289.0L140.4 294.1L141.1 299.2L141.8 304.3L142.6 309.4L143.4 314.5L144.3 319.5L145.2 324.6L146.2 329.7L147.2 334.7L148.2 339.8L149.2 344.8L150.2 349.9L151.3 354.9L152.4 359.9L153.5 365.0L154.6 370.0L155.8 375.0L157.1 380.0L158.4 385.0L159.9 389.9L161.5 394.7L163.4 399.6L165.4 404.3L167.4 409.1L169.5 413.8L171.6 418.5L173.9 423.1L176.4 427.6L179.1 432.0L181.9 436.3L185.0 440.4L188.3 444.3L191.8 448.1L195.3 452.0L198.6 455.9L201.8 459.9L201.8 454.8L200.1 450.1L197.8 445.6L195.3 441.2L192.8 436.9L190.2 432.5L187.7 428.2L185.5 423.7L183.7 419.0L182.0 414.2L180.3 409.5L178.5 404.8L176.6 400.1L174.8 395.4L173.2 390.7L171.6 385.9L170.2 381.1L168.8 376.3L167.5 371.4L166.2 366.5L165.1 361.6L164.0 356.7L163.0 351.8L162.0 346.9L161.0 342.0L160.1 337.0L159.2 332.1L158.4 327.1L157.5 322.1L156.7 317.2L156.0 312.2L155.2 307.2L154.5 302.2L153.8 297.3L153.2 292.3L152.5 287.3L151.9 282.3L151.3 277.3L150.8 272.3L150.2 267.3L149.7 262.3L149.2 257.3L148.7 252.3L148.1 247.3L147.6 242.3L147.1 237.3L146.6 232.3L146.1 227.3L145.6 222.3L145.1 217.3L144.5 212.3L144.0 207.3L143.4 202.3L142.8 197.3L142.1 192.3L141.5 187.3L140.8 182.3L140.1 177.4L139.5 172.4L138.9 167.4L138.3 162.4L137.7 157.4L137.2 152.4L136.7 147.4L136.2 142.4L135.8 137.4L135.3 132.4L134.9 127.4L134.5 122.4L134.1 117.3L133.7 112.3L133.3 107.3L133.0 102.3L132.6 97.3L132.3 92.3L131.9 87.3L131.6 82.2L131.3 77.2L131.0 72.2L130.6 67.2L130.3 62.2L130.0 57.1L129.7 52.1L129.4 47.1L129.1 42.1L128.8 37.1L128.4 32.1L128.1 27.0L127.8 22.0L127.5 17.0Z" fill="#ff00ff"/>
<path d="M112.6 17.0L113.1 21.3L113.5 25.7L113.8 30.0L114.1 34.4L114.3 38.7L114.6 43.1L114.8 47.5L115.0 51.8L115.1 56.2L115.3 60.5L115.4 64.9L115.6 69.3L115.7 73.7L115.9 78.0L116.0 82.4L116.1 86.8L116.3 91.1L116.4 95.5L116.6 99.9L116.8 104.2L117.0 108.6L117.2 112.9L117.4 117.3L117.7 121.7L118.0 126.0L118.4 130.4L118.7 134.7L119.1 139.1L119.5 143.4L119.9 147.8L120.3 152.1L120.7 156.5L121.1 160.8L121.4 165.2L121.7 169.5L122.0 173.9L122.3 178.2L122.6 182.6L122.9 187.0L123.2 191.3L123.6 195.7L123.9 200.0L124.3 204.4L124.6 208.7L125.0 213.1L125.3 217.4L125.7 221.8L126.0 226.1L126.4 230.5L126.7 234.9L127.1 239.2L127.5 243.6L127.9 247.9L128.3 252.3L128.7 256.6L129.1 261.0L129.5 265.3L129.9 269.7L130.4 274.0L130.8 278.3L131.3 282.7L131.8 287.0L132.3 291.4L132.8 295.7L133.3 300.0L133.9 304.3L134.4 308.7L135.0 313.0L135.7 317.3L136.4 321.6L137.0 325.9L137.8 330.3L138.5 334.6L139.3 338.9L140.1 343.2L140.9 347.5L141.7 351.8L142.5 356.0L143.4 360.3L144.3 364.6L145.2 368.8L146.2 373.1L147.2 377.3L148.3 381.6L149.4 385.8L150.5 390.0L151.6 394.3L152.7 398.5L153.9 402.7L155.2 406.9L156.5 411.0L158.1 415.1L159.7 419.2L161.5 423.2L163.3 427.1L165.3 431.0L167.4 434.9L169.6 438.6L171.9 442.3L174.3 446.0L176.8 449.6L179.5 453.0L182.4 456.2L185.5 459.3L188.7 462.3L192.0 465.2L195.3 468.0L198.8 470.7L202.3 473.3L203.1 472.3L199.5 469.7L196.1 467.0L192.8 464.2L189.6 461.4L186.4 458.4L183.4 455.4L180.5 452.2L177.8 448.8L175.3 445.3L172.9 441.7L170.6 438.0L168.4 434.3L166.4 430.4L164.4 426.6L162.6 422.7L160.8 418.7L159.2 414.7L157.7 410.6L156.3 406.5L155.0 402.4L153.8 398.2L152.7 394.0L151.6 389.8L150.5 385.5L149.4 381.3L148.3 377.1L147.3 372.8L146.3 368.6L145.4 364.3L144.5 360.1L143.6 355.8L142.8 351.5L141.9 347.3L141.1 343.0L140.4 338.7L139.6 334.4L138.8 330.1L138.1 325.8L137.4 321.5L136.8 317.1L136.1 312.8L135.5 308.5L134.9 304.2L134.4 299.9L133.9 295.6L133.3 291.2L132.8 286.9L132.4 282.6L131.9 278.2L131.4 273.9L131.0 269.6L130.6 265.2L130.2 260.9L129.7 256.5L129.3 252.2L128.9 247.8L128.6 243.5L128.2 239.1L127.8 234.8L127.4 230.4L127.1 226.1L126.7 221.7L126.4 217.3L126.0 213.0L125.7 208.6L125.3 204.3L125.0 199.9L124.6 195.6L124.3 191.2L124.0 186.9L123.7 182.5L123.4 178.2L123.1 173.8L122.8 169.5L122.4 165.1L122.1 160.7L121.8 156.4L121.4 152.0L121.0 147.7L120.6 143.3L120.2 139.0L119.8 134.6L119.4 130.3L119.0 125.9L118.7 121.6L118.5 117.2L118.2 112.9L118.0 108.5L117.8 104.2L117.6 99.8L117.5 95.5L117.3 91.1L117.2 86.7L117.0 82.4L116.9 78.0L116.7 73.6L116.6 69.3L116.5 64.9L116.3 60.5L116.1 56.1L116.0 51.8L115.8 47.4L115.6 43.0L115.4 38.7L115.1 34.3L114.8 30.0L114.5 25.6L114.1 21.2L113.6 16.9Z" fill="#0000ff"/>
<path d="M242.0 17.0L243.2 22.9L244.4 28.8L245.5 34.6L246.7 40.5L247.9 46.4L249.0 52.3L250.2 58.2L251.4 64.0L252.5 69.9L253.7 75.8L254.9 81.7L256.1 87.5L257.4 93.4L258.6 99.3L259.9 105.1L261.2 111.0L262.4 116.8L263.7 122.7L265.0 128.6L266.3 134.4L267.7 140.3L269.1 146.1L270.6 151.9L272.1 157.7L273.7 163.5L275.3 169.2L277.0 175.0L278.8 180.7L280.6 186.4L282.4 192.1L284.4 197.8L286.3 203.5L288.3 209.2L290.4 214.8L292.5 220.4L294.6 226.0L296.7 231.6L298.9 237.2L301.2 242.7L303.5 248.3L305.8 253.8L308.2 259.3L310.7 264.8L313.2 270.3L315.8 275.7L318.5 281.0L321.2 286.3L324.1 291.6L327.0 296.8L330.1 301.9L333.2 307.0L336.5 312.1L339.9 317.1L343.3 322.0L346.8 326.9L350.3 331.7L353.9 336.5L357.6 341.3L361.3 346.0L365.2 350.7L369.1 355.2L373.2 359.7L377.3 363.9L381.6 368.0L385.9 372.0L390.5 376.0L395.1 379.9L399.8 383.6L404.6 387.3L409.5 390.9L414.4 394.4L419.3 397.8L424.3 401.1L429.3 404.3L434.4 407.5L439.5 410.6L444.7 413.6L450.0 416.5L455.3 419.3L460.7 422.0L466.1 424.6L471.5 427.0L477.0 429.4L482.6 431.6L488.2 433.7L493.9 435.8L499.5 437.8L505.2 439.7L510.9 441.6L516.6 443.5L522.3 445.3L528.1 447.0L533.8 448.7L539.6 450.4L545.4 451.9L551.2 453.4L557.0 454.9L562.8 456.2L568.7 457.6L574.5 458.9L580.4 460.1L586.3 461.3L592.1 462.5L598.0 463.6L603.9 464.7L609.9 465.8L615.8 466.8L621.7 467.7L627.6 468.6L633.5 469.5L639.4 470.4L645.4 471.2L651.3 472.0L657.3 472.8L663.2 473.6L669.2 474.3L675.1 475.0L681.1 475.7L687.1 476.4L693.0 477.0L699.0 477.6L704.9 478.1L710.9 478.7L716.9 479.2L722.8 479.7L728.8 480.2L734.8 480.7L740.8 481.2L746.7 481.7L752.7 482.1L758.7 482.6L764.7 483.0L770.7 483.4L776.6 483.8L782.6 484.1L788.6 484.4L794.6 484.8L800.6 485.0L806.6 485.3" fill="none" stroke="#000" stroke-width="1.6" stroke-dasharray="7 2.9"/>
</g>
<line x1="260.16" y1="141.4" x2="260.16" y2="340.2" stroke="#000" stroke-width="4.6" stroke-dasharray="15.6 5.08"/>
<rect x="474.8" y="186" width="267.1" height="185.4" fill="#fff"/>
<path d="M514.20 302.90h7M723.00 302.90h-7" stroke="#000" stroke-width="1" fill="none"/>
<path d="M514.20 218.30h7M723.00 218.30h-7" stroke="#000" stroke-width="1" fill="none"/>
<g clip-path="url(#cpIn)">
<g clip-path="url(#cpHi)"><path d="M-451.40 0.00L148.60 600.00M-432.90 0.00L167.10 600.00M-414.40 0.00L185.60 600.00M-395.90 0.00L204.10 600.00M-377.40 0.00L222.60 600.00M-358.90 0.00L241.10 600.00M-340.40 0.00L259.60 600.00M-321.90 0.00L278.10 600.00M-303.40 0.00L296.60 600.00M-284.90 0.00L315.10 600.00M-266.40 0.00L333.60 600.00M-247.90 0.00L352.10 600.00M-229.40 0.00L370.60 600.00M-210.90 0.00L389.10 600.00M-192.40 0.00L407.60 600.00M-173.90 0.00L426.10 600.00M-155.40 0.00L444.60 600.00M-136.90 0.00L463.10 600.00M-118.40 0.00L481.60 600.00M-99.90 0.00L500.10 600.00M-81.40 0.00L518.60 600.00M-62.90 0.00L537.10 600.00M-44.40 0.00L555.60 600.00M-25.90 0.00L574.10 600.00M-7.40 0.00L592.60 600.00M11.10 0.00L611.10 600.00M29.60 0.00L629.60 600.00M48.10 0.00L648.10 600.00M66.60 0.00L666.60 600.00M85.10 0.00L685.10 600.00M103.60 0.00L703.60 600.00M122.10 0.00L722.10 600.00M140.60 0.00L740.60 600.00M159.10 0.00L759.10 600.00M177.60 0.00L777.60 600.00M196.10 0.00L796.10 600.00M214.60 0.00L814.60 600.00M233.10 0.00L833.10 600.00M251.60 0.00L851.60 600.00M270.10 0.00L870.10 600.00M288.60 0.00L888.60 600.00M307.10 0.00L907.10 600.00M325.60 0.00L925.60 600.00M344.10 0.00L944.10 600.00M362.60 0.00L962.60 600.00M381.10 0.00L981.10 600.00M399.60 0.00L999.60 600.00M418.10 0.00L1018.10 600.00M436.60 0.00L1036.60 600.00M455.10 0.00L1055.10 600.00M473.60 0.00L1073.60 600.00M492.10 0.00L1092.10 600.00M510.60 0.00L1110.60 600.00M529.10 0.00L1129.10 600.00M547.60 0.00L1147.60 600.00M566.10 0.00L1166.10 600.00M584.60 0.00L1184.60 600.00M603.10 0.00L1203.10 600.00M621.60 0.00L1221.60 600.00M640.10 0.00L1240.10 600.00M658.60 0.00L1258.60 600.00M677.10 0.00L1277.10 600.00M695.60 0.00L1295.60 600.00M714.10 0.00L1314.10 600.00M732.60 0.00L1332.60 600.00M751.10 0.00L1351.10 600.00M769.60 0.00L1369.60 600.00M788.10 0.00L1388.10 600.00M806.60 0.00L1406.60 600.00M825.10 0.00L1425.10 600.00M843.60 0.00L1443.60 600.00M862.10 0.00L1462.10 600.00M880.60 0.00L1480.60 600.00M899.10 0.00L1499.10 600.00" stroke="#b0b0b0" stroke-width="1.9" fill="none"/></g>
<path d="M241.4 -462.2L242.7 -455.8L243.9 -449.4L244.9 -443.0L245.7 -436.5L246.6 -430.1L247.4 -423.6L248.1 -417.1L248.8 -410.6L249.5 -404.1L250.2 -397.6L250.8 -391.1L251.4 -384.6L252.0 -378.1L252.6 -371.6L253.3 -365.1L253.9 -358.5L254.5 -352.0L255.2 -345.5L255.9 -339.0L256.6 -332.6L257.4 -326.1L258.2 -319.6L259.1 -313.1L259.9 -306.7L260.8 -300.2L261.7 -293.7L262.6 -287.3L263.5 -280.8L264.4 -274.4L265.4 -267.9L266.3 -261.4L267.3 -255.0L268.3 -248.6L269.3 -242.1L270.4 -235.7L271.4 -229.3L272.5 -222.8L273.6 -216.4L274.6 -210.0L275.8 -203.6L276.9 -197.2L278.0 -190.8L279.2 -184.4L280.4 -177.9L281.6 -171.5L282.8 -165.2L284.1 -158.8L285.3 -152.4L286.6 -146.0L287.9 -139.6L289.2 -133.3L290.6 -126.9L291.9 -120.5L293.3 -114.2L294.7 -107.9L296.1 -101.5L297.5 -95.2L299.0 -88.9L300.5 -82.6L302.0 -76.2L303.5 -69.9L305.1 -63.6L306.6 -57.3L308.3 -51.0L309.9 -44.8L311.6 -38.5L313.2 -32.2L315.0 -26.0L316.7 -19.8L318.5 -13.6L320.3 -7.4L322.1 -1.2L323.9 5.0L325.8 11.2L327.7 17.4L329.7 23.6L331.7 29.8L333.8 35.9L335.9 41.9L338.1 47.9L340.4 53.9L342.8 59.8L345.4 65.6L348.0 71.4L350.8 77.1L353.7 82.8L356.6 88.4L359.7 94.0L362.7 99.6L365.9 105.1L369.0 110.5L372.2 116.0L375.4 121.4L378.7 126.7L382.0 132.1L385.4 137.4L388.8 142.7L392.3 147.9L395.9 153.0L399.6 158.0L403.3 162.9L407.1 167.7L411.0 172.5L415.0 177.2L419.1 181.9L423.3 186.5L427.5 191.0L431.8 195.3L436.2 199.5L440.7 203.6L445.2 207.4L449.8 211.1L454.5 214.7L459.3 218.2L464.1 221.6L469.1 224.9L474.1 228.1L479.1 231.3L484.2 234.4L489.4 237.4L494.5 240.4L499.7 243.4L504.8 246.4L510.0 249.3L515.1 252.2L520.2 255.1L525.4 257.8L530.6 260.5L535.9 263.1L541.1 265.7L546.4 268.3L551.7 270.7L557.1 272.9L562.5 275.0L568.0 277.0L573.4 278.9L578.9 280.8L584.4 282.6L590.0 284.3L595.5 285.9L601.1 287.5L606.6 289.0L612.2 290.5L617.8 292.0L623.3 293.5L628.9 295.1L634.4 296.7L640.0 298.3L645.6 299.8L651.2 301.1L656.8 302.4L662.4 303.6L668.0 304.8L673.7 305.8L679.3 306.7L685.0 307.6L690.7 308.3L696.4 309.0L702.1 309.6L702.1 302.0L682.2 280.4L680.7 279.9L679.3 279.4L677.8 278.9L676.3 278.4L674.9 277.9L673.4 277.4L671.9 276.9L670.5 276.4L669.0 275.9L667.5 275.3L666.1 274.8L664.6 274.3L663.1 273.8L661.7 273.3L660.2 272.8L658.7 272.3L657.3 271.8L655.8 271.3L654.4 270.8L652.9 270.3L651.4 269.7L650.0 269.2L648.5 268.7L647.1 268.1L645.6 267.5L644.2 267.0L642.7 266.4L641.3 265.8L639.8 265.2L638.4 264.6L637.0 264.0L635.5 263.4L634.1 262.8L632.6 262.3L631.2 261.7L629.7 261.1L628.3 260.6L626.8 260.0L625.4 259.4L623.9 258.8L622.5 258.2L621.1 257.7L619.6 257.0L618.2 256.4L616.8 255.8L615.3 255.1L613.9 254.5L612.5 253.8L611.1 253.1L609.7 252.5L608.3 251.8L606.9 251.1L605.5 250.3L604.1 249.6L602.7 248.9L601.3 248.1L599.9 247.4L598.6 246.6L597.2 245.8L596.2 246.7L591.2 242.1L586.2 237.4L581.2 232.8L576.0 228.5L570.6 224.5L565.2 220.6L559.7 216.7L554.3 212.8L548.9 208.8L543.6 204.7L538.6 200.0L533.9 195.1L529.0 190.2L524.1 185.4L519.3 180.6L514.5 175.7L509.8 170.7L505.2 165.6L500.8 160.3L496.4 155.0L492.1 149.5L487.8 144.0L483.7 138.4L479.5 132.7L475.5 127.0L471.4 121.3L467.5 115.5L463.5 109.7L459.6 103.9L455.7 98.0L451.9 92.1L448.1 86.1L444.4 80.1L440.7 74.1L437.1 68.0L433.6 61.9L430.2 55.7L426.8 49.4L423.5 43.2L420.2 36.8L417.0 30.4L413.8 24.0L410.7 17.6L407.7 11.1L404.7 4.5L401.9 -2.0L399.1 -8.6L396.4 -15.2L393.7 -21.9L391.0 -28.6L388.4 -35.3L385.9 -42.0L383.4 -48.8L380.9 -55.6L378.5 -62.5L376.1 -69.3L373.8 -76.2L371.5 -83.1L369.4 -90.0L367.2 -96.9L365.2 -103.9L363.1 -110.8L361.2 -117.8L359.3 -124.8L357.4 -131.8L355.6 -138.8L353.8 -145.9L352.0 -152.9L350.3 -160.0L348.6 -167.1L347.0 -174.3L345.4 -181.4L343.8 -188.5L342.2 -195.6L340.7 -202.8L339.1 -209.9L337.6 -217.1L336.2 -224.2L334.7 -231.4L333.3 -238.5L331.9 -245.7L330.5 -252.9L329.1 -260.0L327.8 -267.2L326.5 -274.4L325.2 -281.6L323.9 -288.8L322.7 -296.0L321.4 -303.2L320.2 -310.5L319.0 -317.7L317.8 -324.9L316.7 -332.1L315.6 -339.3L314.5 -346.6L313.5 -353.9L312.5 -361.1L311.5 -368.4L310.5 -375.7L309.6 -383.0L308.6 -390.2L307.6 -397.5L306.6 -404.7L305.5 -412.0L304.5 -419.2L303.3 -426.4L302.1 -433.6L300.8 -440.8L299.5 -448.0L297.9 -455.1L296.1 -462.2Z" fill="#00ffff"/>
<path d="M296.1 -462.2L298.0 -454.8L299.6 -447.4L301.0 -440.0L302.3 -432.5L303.5 -425.0L304.7 -417.5L305.8 -410.0L306.9 -402.5L308.0 -394.9L309.0 -387.4L310.0 -379.8L311.0 -372.3L312.0 -364.7L313.0 -357.2L314.1 -349.6L315.1 -342.1L316.3 -334.6L317.5 -327.0L318.7 -319.5L319.9 -312.0L321.2 -304.6L322.5 -297.1L323.8 -289.6L325.1 -282.1L326.4 -274.6L327.8 -267.1L329.2 -259.7L330.6 -252.2L332.0 -244.8L333.5 -237.3L335.0 -229.9L336.5 -222.5L338.1 -215.0L339.6 -207.6L341.2 -200.2L342.8 -192.8L344.5 -185.4L346.1 -178.0L347.8 -170.6L349.6 -163.2L351.3 -155.8L353.2 -148.4L355.0 -141.1L356.9 -133.8L358.8 -126.5L360.8 -119.2L362.8 -112.0L364.9 -104.8L367.0 -97.6L369.2 -90.4L371.5 -83.2L373.9 -76.0L376.3 -68.9L378.7 -61.8L381.2 -54.7L383.8 -47.6L386.4 -40.6L389.1 -33.5L391.8 -26.6L394.6 -19.6L397.4 -12.7L400.2 -5.9L403.2 1.0L406.2 7.8L409.3 14.5L412.5 21.3L415.8 27.9L419.1 34.6L422.5 41.2L425.9 47.7L429.4 54.2L433.0 60.6L436.6 67.1L440.3 73.4L444.0 79.7L447.9 86.0L451.8 92.2L455.8 98.4L459.8 104.5L463.9 110.5L468.1 116.4L472.3 122.3L476.6 128.2L481.0 134.0L485.5 139.8L490.0 145.5L494.6 151.0L499.4 156.4L504.3 161.5L509.3 166.3L514.5 170.8L520.1 175.1L525.8 179.1L531.5 183.1L537.2 187.2L542.9 191.4L548.2 195.9L553.4 200.8L558.8 205.3L564.6 208.9L570.4 212.8L576.0 216.9L581.9 220.5L587.9 223.7L594.0 226.8L600.1 230.0L606.2 233.2L612.3 236.3L618.4 239.5L624.5 242.5L630.7 245.3L637.0 247.8L643.3 250.1L649.7 252.5L656.0 255.0L662.3 257.5L668.7 259.9L675.0 262.2L681.4 264.4L681.4 262.2L675.3 259.5L669.2 256.8L663.1 254.0L657.0 251.1L651.0 248.2L645.0 245.1L639.0 241.9L633.2 238.6L627.3 235.2L621.5 231.8L615.6 228.4L609.7 225.1L603.8 221.8L598.0 218.4L592.2 214.7L586.6 210.9L580.9 207.1L575.3 203.2L570.0 198.9L564.7 194.4L559.3 190.1L553.9 185.8L548.5 181.6L543.1 177.3L537.7 172.9L532.5 168.4L527.4 163.8L522.4 159.0L517.4 154.1L512.5 149.0L507.7 143.9L502.9 138.7L498.2 133.5L493.6 128.1L489.0 122.7L484.6 117.2L480.3 111.6L476.0 105.9L471.9 100.2L467.7 94.3L463.7 88.3L459.7 82.3L455.8 76.2L452.1 70.0L448.4 63.8L444.8 57.6L441.3 51.3L437.9 44.9L434.5 38.5L431.2 32.0L428.0 25.4L424.9 18.8L421.8 12.1L418.8 5.4L415.9 -1.3L413.0 -8.0L410.2 -14.8L407.4 -21.5L404.7 -28.4L402.0 -35.2L399.3 -42.1L396.7 -49.0L394.1 -55.9L391.6 -62.8L389.1 -69.8L386.7 -76.8L384.3 -83.8L382.0 -90.8L379.7 -97.8L377.4 -104.9L375.2 -111.9L373.1 -119.0L370.9 -126.1L368.8 -133.2L366.7 -140.3L364.7 -147.4L362.7 -154.6L360.7 -161.7L358.7 -168.9L356.8 -176.1L355.0 -183.3L353.1 -190.5L351.3 -197.8L349.6 -205.0L347.9 -212.2L346.2 -219.5L344.6 -226.7L343.1 -234.0L341.5 -241.3L340.0 -248.6L338.6 -255.9L337.2 -263.2L335.8 -270.6L334.4 -277.9L333.1 -285.3L331.8 -292.6L330.5 -300.0L329.2 -307.4L328.0 -314.7L326.7 -322.1L325.5 -329.4L324.3 -336.8L323.2 -344.2L322.1 -351.6L321.0 -359.0L320.0 -366.5L318.9 -373.9L317.9 -381.3L316.9 -388.7L315.8 -396.1L314.8 -403.5L313.7 -410.9L312.5 -418.3L311.4 -425.7L310.1 -433.0L308.8 -440.4L307.4 -447.7L305.8 -454.9L303.9 -462.2Z" fill="#00ffff"/>
<path d="M257.3 -462.2L259.2 -453.9L260.6 -445.5L261.9 -437.1L263.2 -428.7L264.3 -420.3L265.3 -411.8L266.3 -403.4L267.3 -394.9L268.2 -386.4L269.2 -377.9L270.1 -369.4L271.0 -360.9L272.0 -352.4L273.0 -344.0L274.0 -335.5L275.1 -327.1L276.3 -318.6L277.5 -310.2L278.7 -301.8L280.0 -293.4L281.2 -284.9L282.5 -276.5L283.8 -268.1L285.2 -259.7L286.5 -251.3L287.9 -242.9L289.4 -234.5L290.8 -226.1L292.2 -217.8L293.7 -209.4L295.2 -201.0L296.7 -192.6L298.2 -184.2L299.8 -175.9L301.4 -167.5L303.0 -159.2L304.6 -150.8L306.3 -142.5L308.1 -134.2L309.9 -125.9L311.8 -117.7L313.8 -109.5L315.8 -101.3L318.0 -93.2L320.2 -85.0L322.6 -76.9L325.0 -68.9L327.5 -60.8L330.1 -52.8L332.7 -44.7L335.4 -36.7L338.1 -28.7L340.8 -20.8L343.5 -12.8L346.2 -4.8L348.9 3.2L351.6 11.1L354.3 19.1L357.2 27.1L360.1 34.9L363.1 42.8L366.2 50.5L369.5 58.1L372.9 65.6L376.5 73.1L380.3 80.4L384.3 87.8L388.3 95.0L392.4 102.2L396.5 109.3L400.7 116.3L405.0 123.4L409.2 130.5L413.6 137.6L418.1 144.5L422.7 151.3L427.4 157.8L432.4 164.0L437.6 169.9L443.1 175.5L448.9 181.0L454.8 186.3L460.9 191.4L467.0 196.4L473.2 201.3L479.5 206.1L485.7 210.7L492.0 215.2L498.5 219.6L505.0 223.8L511.6 227.8L518.3 231.6L525.1 235.0L532.0 238.4L538.8 241.9L545.5 245.7L552.3 249.3L559.3 252.4L566.3 255.2L573.4 257.9L580.6 260.4L587.7 262.8L594.9 265.1L602.2 267.2L609.4 269.2L616.7 271.1L624.0 273.2L631.2 275.2L638.5 277.2L639.9 277.3L632.9 274.4L626.0 271.6L619.0 268.9L611.9 266.3L604.8 263.8L597.8 261.2L590.8 258.5L583.8 255.6L576.9 252.7L570.0 249.7L563.0 246.7L556.2 243.5L549.5 240.1L542.8 236.3L536.2 232.5L529.6 228.6L523.1 224.6L516.6 220.5L510.1 216.5L503.6 212.5L497.2 208.3L491.0 203.7L484.9 198.9L478.9 193.9L473.0 188.7L467.2 183.4L461.5 177.9L456.0 172.3L450.5 166.6L445.2 160.8L440.1 154.8L435.0 148.6L430.0 142.3L425.1 135.9L420.4 129.3L415.7 122.7L411.2 116.0L406.8 109.3L402.4 102.5L398.2 95.5L394.0 88.5L389.9 81.3L386.0 74.1L382.2 66.9L378.6 59.5L375.1 52.1L371.8 44.6L368.6 37.0L365.5 29.3L362.4 21.6L359.5 13.8L356.6 5.9L353.8 -1.9L351.0 -9.7L348.3 -17.6L345.6 -25.5L343.0 -33.4L340.4 -41.3L337.8 -49.2L335.3 -57.2L332.8 -65.2L330.4 -73.2L328.1 -81.3L325.8 -89.3L323.6 -97.4L321.5 -105.5L319.4 -113.6L317.4 -121.7L315.4 -129.8L313.5 -138.0L311.6 -146.2L309.8 -154.4L308.0 -162.6L306.3 -170.8L304.6 -179.1L302.9 -187.3L301.2 -195.6L299.6 -203.9L298.0 -212.1L296.5 -220.4L295.0 -228.7L293.5 -236.9L292.0 -245.2L290.6 -253.5L289.1 -261.8L287.8 -270.1L286.4 -278.5L285.1 -286.8L283.8 -295.1L282.5 -303.5L281.2 -311.8L280.0 -320.1L278.8 -328.5L277.7 -336.8L276.7 -345.2L275.7 -353.6L274.7 -362.0L273.7 -370.4L272.8 -378.8L271.9 -387.2L270.9 -395.6L270.0 -404.0L268.9 -412.4L267.8 -420.8L266.7 -429.1L265.5 -437.4L264.1 -445.7L262.6 -454.0L260.7 -462.2Z" fill="#ffd700"/>
<path d="M260.7 -462.2L262.6 -454.0L264.1 -445.7L265.5 -437.4L266.7 -429.1L267.8 -420.8L268.9 -412.4L270.0 -404.0L270.9 -395.6L271.9 -387.2L272.8 -378.8L273.7 -370.4L274.7 -362.0L275.7 -353.6L276.7 -345.2L277.7 -336.8L278.8 -328.5L280.0 -320.1L281.2 -311.8L282.5 -303.5L283.8 -295.1L285.1 -286.8L286.4 -278.5L287.8 -270.1L289.1 -261.8L290.6 -253.5L292.0 -245.2L293.5 -236.9L295.0 -228.7L296.5 -220.4L298.0 -212.1L299.6 -203.9L301.2 -195.6L302.9 -187.3L304.6 -179.1L306.3 -170.8L308.0 -162.6L309.8 -154.4L311.6 -146.2L313.5 -138.0L315.4 -129.8L317.4 -121.7L319.4 -113.6L321.5 -105.5L323.6 -97.4L325.8 -89.3L328.1 -81.3L330.4 -73.2L332.8 -65.2L335.3 -57.2L337.8 -49.2L340.4 -41.3L343.0 -33.4L345.6 -25.5L348.3 -17.6L351.0 -9.7L353.8 -1.9L356.6 5.9L359.5 13.8L362.4 21.6L365.5 29.3L368.6 37.0L371.8 44.6L375.1 52.1L378.6 59.5L382.2 66.9L386.0 74.1L389.9 81.3L394.0 88.5L398.2 95.5L402.4 102.5L406.8 109.3L411.2 116.0L415.7 122.7L420.4 129.3L425.1 135.9L430.0 142.3L435.0 148.6L440.1 154.8L445.2 160.8L450.5 166.6L456.0 172.3L461.5 177.9L467.2 183.4L473.0 188.7L478.9 193.9L484.9 198.9L491.0 203.7L497.2 208.3L503.6 212.5L510.1 216.5L516.6 220.5L523.1 224.6L529.6 228.6L536.2 232.5L542.8 236.3L549.5 240.1L556.2 243.5L563.0 246.7L570.0 249.7L576.9 252.7L583.8 255.6L590.8 258.5L597.8 261.2L604.8 263.8L611.9 266.3L619.0 268.9L626.0 271.6L632.9 274.4L639.9 277.3L639.9 277.5L634.7 273.2L629.4 269.0L624.0 265.1L618.5 261.3L612.9 257.6L607.3 254.0L601.6 250.6L596.2 246.7L591.2 242.1L586.2 237.4L581.2 232.8L576.0 228.5L570.6 224.5L565.2 220.6L559.7 216.7L554.3 212.8L548.9 208.8L543.6 204.7L538.6 200.0L533.9 195.1L529.0 190.2L524.1 185.4L519.3 180.6L514.5 175.7L509.8 170.7L505.2 165.6L500.8 160.3L496.4 155.0L492.1 149.5L487.8 144.0L483.7 138.4L479.5 132.7L475.5 127.0L471.4 121.3L467.5 115.5L463.5 109.7L459.6 103.9L455.7 98.0L451.9 92.1L448.1 86.1L444.4 80.1L440.7 74.1L437.1 68.0L433.6 61.9L430.2 55.7L426.8 49.4L423.5 43.2L420.2 36.8L417.0 30.4L413.8 24.0L410.7 17.6L407.7 11.1L404.7 4.5L401.9 -2.0L399.1 -8.6L396.4 -15.2L393.7 -21.9L391.0 -28.6L388.4 -35.3L385.9 -42.0L383.4 -48.8L380.9 -55.6L378.5 -62.5L376.1 -69.3L373.8 -76.2L371.5 -83.1L369.4 -90.0L367.2 -96.9L365.2 -103.9L363.1 -110.8L361.2 -117.8L359.3 -124.8L357.4 -131.8L355.6 -138.8L353.8 -145.9L352.0 -152.9L350.3 -160.0L348.6 -167.1L347.0 -174.3L345.4 -181.4L343.8 -188.5L342.2 -195.6L340.7 -202.8L339.1 -209.9L337.6 -217.1L336.2 -224.2L334.7 -231.4L333.3 -238.5L331.9 -245.7L330.5 -252.9L329.1 -260.0L327.8 -267.2L326.5 -274.4L325.2 -281.6L323.9 -288.8L322.7 -296.0L321.4 -303.2L320.2 -310.5L319.0 -317.7L317.8 -324.9L316.7 -332.1L315.6 -339.3L314.5 -346.6L313.5 -353.9L312.5 -361.1L311.5 -368.4L310.5 -375.7L309.6 -383.0L308.6 -390.2L307.6 -397.5L306.6 -404.7L305.5 -412.0L304.5 -419.2L303.3 -426.4L302.1 -433.6L300.8 -440.8L299.5 -448.0L297.9 -455.1L296.1 -462.2Z" fill="#ff00ff"/>
<path d="M241.4 -462.2L242.7 -455.8L243.9 -449.4L244.9 -443.0L245.7 -436.5L246.6 -430.1L247.4 -423.6L248.1 -417.1L248.8 -410.6L249.5 -404.1L250.2 -397.6L250.8 -391.1L251.4 -384.6L252.0 -378.1L252.6 -371.6L253.3 -365.1L253.9 -358.5L254.5 -352.0L255.2 -345.5L255.9 -339.0L256.6 -332.6L257.4 -326.1L258.2 -319.6L259.1 -313.1L259.9 -306.7L260.8 -300.2L261.7 -293.7L262.6 -287.3L263.5 -280.8L264.4 -274.4L265.4 -267.9L266.3 -261.4L267.3 -255.0L268.3 -248.6L269.3 -242.1L270.4 -235.7L271.4 -229.3L272.5 -222.8L273.6 -216.4L274.6 -210.0L275.8 -203.6L276.9 -197.2L278.0 -190.8L279.2 -184.4L280.4 -177.9L281.6 -171.5L282.8 -165.2L284.1 -158.8L285.3 -152.4L286.6 -146.0L287.9 -139.6L289.2 -133.3L290.6 -126.9L291.9 -120.5L293.3 -114.2L294.7 -107.9L296.1 -101.5L297.5 -95.2L299.0 -88.9L300.5 -82.6L302.0 -76.2L303.5 -69.9L305.1 -63.6L306.6 -57.3L308.3 -51.0L309.9 -44.8L311.6 -38.5L313.2 -32.2L315.0 -26.0L316.7 -19.8L318.5 -13.6L320.3 -7.4L322.1 -1.2L323.9 5.0L325.8 11.2L327.7 17.4L329.7 23.6L331.7 29.8L333.8 35.9L335.9 41.9L338.1 47.9L340.4 53.9L342.8 59.8L345.4 65.6L348.0 71.4L350.8 77.1L353.7 82.8L356.6 88.4L359.7 94.0L362.7 99.6L365.9 105.1L369.0 110.5L372.2 116.0L375.4 121.4L378.7 126.7L382.0 132.1L385.4 137.4L388.8 142.7L392.3 147.9L395.9 153.0L399.6 158.0L403.3 162.9L407.1 167.7L411.0 172.5L415.0 177.2L419.1 181.9L423.3 186.5L427.5 191.0L431.8 195.3L436.2 199.5L440.7 203.6L445.2 207.4L449.8 211.1L454.5 214.7L459.3 218.2L464.1 221.6L469.1 224.9L474.1 228.1L479.1 231.3L484.2 234.4L489.4 237.4L494.5 240.4L499.7 243.4L504.8 246.4L510.0 249.3L515.1 252.2L520.2 255.1L525.4 257.8L530.6 260.5L535.9 263.1L541.1 265.7L546.4 268.3L551.7 270.7L557.1 272.9L562.5 275.0L568.0 277.0L573.4 278.9L578.9 280.8L584.4 282.6L590.0 284.3L595.5 285.9L601.1 287.5L606.6 289.0L612.2 290.5L617.8 292.0L623.3 293.5L628.9 295.1L634.4 296.7L640.0 298.3L645.6 299.8L651.2 301.1L656.8 302.4L662.4 303.6L668.0 304.8L673.7 305.8L679.3 306.7L685.0 307.6L690.7 308.3L696.4 309.0L702.1 309.6L702.4 305.6L696.7 305.1L691.1 304.5L685.4 303.7L679.8 303.0L674.2 302.1L668.6 301.1L663.0 300.0L657.4 298.8L651.8 297.6L646.3 296.3L640.7 294.8L635.2 293.3L629.6 291.8L624.1 290.2L618.5 288.7L612.9 287.2L607.3 285.8L601.7 284.3L596.2 282.9L590.7 281.3L585.2 279.6L579.7 277.9L574.2 276.2L568.7 274.3L563.3 272.4L557.9 270.4L552.6 268.2L547.3 265.8L542.0 263.4L536.7 260.9L531.5 258.3L526.3 255.7L521.1 253.0L516.0 250.2L510.9 247.2L505.7 244.2L500.6 241.2L495.5 238.2L490.4 235.2L485.3 232.1L480.2 228.9L475.2 225.7L470.3 222.5L465.4 219.1L460.6 215.8L455.8 212.3L451.2 208.7L446.6 205.1L442.2 201.3L437.8 197.3L433.5 193.1L429.2 188.8L425.0 184.4L420.9 179.8L416.9 175.2L412.9 170.4L409.0 165.7L405.3 160.9L401.6 156.1L397.9 151.1L394.4 146.0L390.9 140.9L387.4 135.7L384.1 130.4L380.8 125.1L377.5 119.7L374.3 114.3L371.1 108.9L368.0 103.5L364.9 98.0L361.8 92.5L358.8 86.9L355.8 81.3L353.0 75.7L350.2 70.0L347.6 64.3L345.1 58.5L342.7 52.7L340.4 46.8L338.2 40.9L336.1 34.8L334.0 28.8L332.0 22.6L330.0 16.5L328.1 10.3L326.3 4.1L324.4 -2.1L322.6 -8.3L320.8 -14.4L319.0 -20.6L317.3 -26.9L315.6 -33.1L313.9 -39.3L312.2 -45.6L310.6 -51.8L309.0 -58.1L307.4 -64.4L305.8 -70.7L304.3 -77.0L302.8 -83.3L301.3 -89.6L299.9 -95.9L298.4 -102.2L297.0 -108.5L295.6 -114.9L294.3 -121.2L292.9 -127.5L291.6 -133.9L290.3 -140.3L289.0 -146.6L287.7 -153.0L286.4 -159.4L285.2 -165.7L284.0 -172.1L282.7 -178.5L281.6 -184.9L280.4 -191.3L279.2 -197.7L278.1 -204.1L277.0 -210.5L275.9 -216.9L274.8 -223.3L273.7 -229.8L272.7 -236.2L271.7 -242.6L270.7 -249.0L269.7 -255.5L268.7 -261.9L267.7 -268.4L266.8 -274.8L265.8 -281.2L264.9 -287.7L264.0 -294.2L263.1 -300.6L262.3 -307.1L261.4 -313.5L260.6 -320.0L259.7 -326.4L259.0 -332.9L258.2 -339.4L257.5 -345.9L256.9 -352.3L256.2 -358.8L255.6 -365.4L255.0 -371.9L254.3 -378.4L253.7 -384.9L253.1 -391.4L252.5 -397.9L251.8 -404.4L251.1 -410.9L250.4 -417.5L249.7 -424.0L248.9 -430.4L248.0 -436.9L247.2 -443.4L246.2 -449.9L245.0 -456.4L243.6 -462.8Z" fill="#0000ff"/>
<path d="M158.2 -462.2L158.7 -454.2L159.2 -446.3L159.7 -438.4L160.2 -430.4L160.6 -422.5L161.1 -414.5L161.5 -406.6L161.9 -398.7L162.4 -390.7L162.8 -382.8L163.2 -374.8L163.7 -366.9L164.1 -359.0L164.6 -351.0L165.0 -343.1L165.5 -335.2L165.9 -327.2L166.4 -319.3L166.9 -311.4L167.5 -303.4L168.0 -295.5L168.6 -287.6L169.2 -279.7L169.8 -271.7L170.5 -263.8L171.2 -255.9L171.9 -248.0L172.7 -240.1L173.4 -232.2L174.2 -224.3L175.0 -216.4L175.8 -208.5L176.6 -200.6L177.5 -192.7L178.4 -184.8L179.3 -176.9L180.2 -169.0L181.1 -161.1L182.0 -153.2L182.9 -145.3L183.8 -137.4L184.6 -129.5L185.5 -121.6L186.4 -113.7L187.2 -105.8L188.1 -97.9L189.0 -90.0L189.9 -82.1L190.8 -74.2L191.7 -66.3L192.7 -58.5L193.6 -50.6L194.6 -42.7L195.6 -34.8L196.7 -27.0L197.7 -19.1L198.9 -11.3L200.0 -3.5L201.2 4.3L202.5 12.1L203.8 19.9L205.1 27.7L206.6 35.5L208.1 43.3L209.6 51.1L211.2 58.9L212.9 66.6L214.6 74.3L216.4 82.0L218.3 89.7L220.2 97.3L222.2 104.9L224.3 112.5L226.5 120.0L229.0 127.4L231.5 134.8L234.2 142.2L236.9 149.6L239.6 156.9L242.5 164.1L245.4 171.4L248.4 178.5L251.5 185.6L254.7 192.7L258.0 199.7L261.4 206.7L265.0 213.5L268.9 220.1L273.0 226.5L277.4 232.8L281.8 238.8L286.5 244.7L291.4 250.4L296.4 256.0L301.6 261.2L306.9 266.4L312.5 271.2L318.3 275.5L324.4 279.3L330.6 282.8L337.0 286.1L343.3 289.5L349.6 292.8L356.0 296.1L362.4 299.3L368.8 302.3L375.3 305.1L381.9 307.8L388.5 310.3L409.7 307.3L409.7 296.9L407.3 295.7L405.0 294.4L402.8 293.2L400.5 291.9L398.2 290.6L396.0 289.2L393.8 287.9L391.6 286.4L389.4 285.0L387.2 283.5L385.1 281.9L382.9 280.4L380.8 278.8L378.6 277.2L376.5 275.7L374.4 274.1L372.2 272.5L370.1 270.9L368.0 269.3L365.9 267.7L363.8 266.2L361.6 264.6L359.4 263.2L357.2 261.7L355.0 260.3L352.8 258.9L350.6 257.5L348.3 256.2L346.1 254.9L346.1 254.9L341.3 248.4L336.6 241.9L332.0 235.4L327.4 228.7L322.9 222.0L318.6 215.2L314.3 208.3L310.1 201.4L306.1 194.3L302.4 187.1L298.8 179.7L295.3 172.2L292.0 164.6L288.9 157.0L286.0 149.3L283.3 141.4L280.8 133.5L278.3 125.6L275.8 117.6L273.4 109.6L270.9 101.7L268.3 93.8L265.7 85.9L263.0 77.9L260.4 70.0L257.8 62.1L255.3 54.1L252.8 46.2L250.4 38.2L248.2 30.2L246.0 22.1L244.1 14.0L242.3 5.9L240.7 -2.2L239.1 -10.4L237.6 -18.6L236.1 -26.9L234.7 -35.1L233.4 -43.4L232.0 -51.7L230.8 -60.0L229.6 -68.3L228.3 -76.7L227.2 -85.0L226.0 -93.4L224.9 -101.8L223.7 -110.1L222.6 -118.5L221.5 -126.9L220.3 -135.2L219.2 -143.6L218.0 -151.9L216.9 -160.2L215.6 -168.6L214.4 -176.9L213.2 -185.2L212.0 -193.5L210.9 -201.9L209.8 -210.2L208.8 -218.6L207.9 -226.9L207.1 -235.3L206.3 -243.7L205.6 -252.1L204.9 -260.5L204.2 -268.9L203.6 -277.3L202.9 -285.7L202.2 -294.1L201.6 -302.5L200.9 -310.9L200.2 -319.3L199.6 -327.7L198.9 -336.1L198.3 -344.5L197.6 -352.9L197.0 -361.3L196.4 -369.7L195.7 -378.1L195.1 -386.5L194.5 -394.9L193.9 -403.3L193.3 -411.7L192.7 -420.1L192.1 -428.5L191.5 -436.9L190.9 -445.3L190.4 -453.7L189.8 -462.2Z" fill="#00ffff"/>
<path d="M189.8 -462.2L190.4 -453.6L191.0 -445.0L191.6 -436.4L192.2 -427.8L192.8 -419.2L193.4 -410.6L194.0 -402.0L194.6 -393.4L195.2 -384.8L195.9 -376.2L196.5 -367.7L197.2 -359.1L197.8 -350.5L198.5 -341.9L199.1 -333.3L199.8 -324.7L200.5 -316.1L201.1 -307.6L201.8 -299.0L202.5 -290.4L203.2 -281.8L203.9 -273.2L204.5 -264.6L205.2 -256.0L206.0 -247.5L206.7 -238.9L207.6 -230.3L208.4 -221.8L209.4 -213.2L210.5 -204.7L211.7 -196.2L212.9 -187.7L214.1 -179.2L215.3 -170.7L216.6 -162.2L217.8 -153.6L219.0 -145.1L220.2 -136.6L221.3 -128.1L222.5 -119.5L223.6 -111.0L224.8 -102.4L226.0 -93.9L227.1 -85.3L228.3 -76.8L229.6 -68.3L230.8 -59.7L232.1 -51.2L233.5 -42.8L234.8 -34.3L236.3 -25.9L237.8 -17.4L239.3 -9.1L241.0 -0.7L242.7 7.6L244.5 15.9L246.6 24.2L248.8 32.4L251.1 40.6L253.6 48.7L256.1 56.8L258.7 65.0L261.4 73.1L264.1 81.2L266.8 89.3L269.4 97.4L272.0 105.5L274.6 113.6L277.0 121.8L279.5 130.0L282.3 138.0L285.4 145.7L289.5 152.9L293.5 160.3L297.1 167.9L300.6 175.6L304.2 183.1L308.2 190.4L312.4 197.5L317.0 204.5L321.7 211.2L326.7 217.5L332.0 223.6L337.6 229.5L343.3 235.2L349.2 240.6L355.1 245.9L361.3 250.9L367.5 255.7L367.5 250.4L362.3 244.4L357.1 238.3L351.9 232.3L346.6 226.3L341.4 220.2L336.5 213.9L331.8 207.3L327.3 200.5L322.9 193.7L318.5 186.8L314.1 179.9L309.8 172.9L305.6 165.9L301.6 158.7L298.0 151.4L294.5 143.9L291.2 136.3L288.0 128.6L285.0 120.8L282.1 113.0L279.3 105.1L276.5 97.3L273.8 89.3L271.1 81.4L268.5 73.4L265.9 65.4L263.4 57.4L261.0 49.3L258.6 41.2L256.4 33.1L254.3 25.0L252.2 16.8L250.3 8.7L248.5 0.5L246.8 -7.7L245.1 -16.0L243.4 -24.2L241.8 -32.5L240.3 -40.8L238.8 -49.1L237.3 -57.5L235.9 -65.8L234.5 -74.2L233.1 -82.5L231.8 -90.9L230.5 -99.3L229.2 -107.7L227.9 -116.1L226.6 -124.5L225.4 -132.9L224.1 -141.3L222.9 -149.7L221.7 -158.0L220.4 -166.4L219.2 -174.8L218.0 -183.2L216.8 -191.6L215.7 -200.0L214.7 -208.4L213.6 -216.8L212.7 -225.2L211.9 -233.7L211.1 -242.1L210.3 -250.5L209.6 -259.0L208.9 -267.5L208.2 -275.9L207.5 -284.4L206.8 -292.8L206.1 -301.3L205.5 -309.8L204.8 -318.2L204.1 -326.7L203.5 -335.2L202.8 -343.6L202.2 -352.1L201.5 -360.5L200.9 -369.0L200.3 -377.5L199.6 -385.9L199.0 -394.4L198.4 -402.9L197.8 -411.3L197.2 -419.8L196.6 -428.3L196.0 -436.7L195.4 -445.2L194.9 -453.7L194.3 -462.2Z" fill="#00ffff"/>
<path d="M169.6 -462.2L170.3 -453.3L170.9 -444.4L171.5 -435.4L172.0 -426.5L172.5 -417.6L173.0 -408.7L173.4 -399.8L173.8 -390.9L174.2 -381.9L174.7 -373.0L175.1 -364.1L175.5 -355.2L175.9 -346.3L176.3 -337.3L176.8 -328.4L177.2 -319.5L177.7 -310.6L178.3 -301.7L178.8 -292.8L179.4 -283.9L180.0 -275.0L180.7 -266.1L181.4 -257.1L182.1 -248.3L182.9 -239.4L183.7 -230.5L184.6 -221.6L185.7 -212.8L186.8 -203.9L188.0 -195.1L189.3 -186.3L190.6 -177.5L191.9 -168.7L193.1 -159.9L194.3 -151.0L195.4 -142.2L196.5 -133.3L197.6 -124.4L198.6 -115.6L199.6 -106.7L200.7 -97.8L201.7 -89.0L202.7 -80.1L203.8 -71.2L204.9 -62.4L206.0 -53.5L207.1 -44.7L208.3 -35.8L209.5 -27.0L210.8 -18.2L212.1 -9.5L213.5 -0.7L215.0 8.0L216.6 16.7L218.4 25.4L220.2 34.0L222.2 42.7L224.2 51.3L226.4 59.9L228.6 68.5L230.9 77.1L233.2 85.7L235.5 94.2L237.8 102.7L240.2 111.3L242.6 119.8L245.0 128.3L247.6 136.7L250.2 145.1L253.1 153.4L256.0 161.7L259.1 170.0L262.5 178.1L266.1 186.0L270.1 193.5L274.9 200.5L280.0 207.4L285.2 214.1L290.3 220.9L295.5 227.6L300.8 234.1L306.4 240.3L312.2 246.4L318.2 252.2L324.5 257.6L331.0 262.4L337.8 266.9L345.0 270.4L352.6 272.5L352.6 271.3L345.9 266.9L339.2 262.4L332.9 257.3L326.9 251.8L321.1 245.9L315.4 239.8L309.8 233.7L304.3 227.5L298.9 221.1L293.8 214.5L288.8 207.7L284.0 200.7L279.5 193.5L275.5 186.0L271.8 178.3L268.3 170.4L265.0 162.3L261.7 154.3L258.5 146.3L255.3 138.2L252.2 130.0L249.2 121.9L246.4 113.6L243.7 105.4L241.2 97.0L238.6 88.7L236.2 80.3L233.7 71.8L231.4 63.4L229.1 54.9L227.0 46.3L224.9 37.8L222.9 29.2L221.1 20.6L219.4 12.1L217.8 3.4L216.4 -5.2L215.0 -13.8L213.6 -22.5L212.4 -31.2L211.1 -40.0L210.0 -48.7L208.9 -57.5L207.8 -66.2L206.7 -75.0L205.6 -83.8L204.6 -92.6L203.6 -101.4L202.5 -110.2L201.5 -119.0L200.4 -127.7L199.4 -136.5L198.2 -145.3L197.1 -154.0L195.9 -162.8L194.6 -171.5L193.3 -180.2L192.0 -189.0L190.6 -197.7L189.4 -206.4L188.3 -215.2L187.3 -223.9L186.4 -232.7L185.6 -241.5L184.9 -250.3L184.2 -259.1L183.6 -267.9L182.9 -276.8L182.3 -285.6L181.8 -294.4L181.2 -303.2L180.7 -312.1L180.2 -320.9L179.7 -329.7L179.3 -338.5L178.8 -347.4L178.4 -356.2L178.0 -365.1L177.5 -373.9L177.1 -382.7L176.7 -391.6L176.2 -400.4L175.8 -409.2L175.3 -418.0L174.8 -426.9L174.3 -435.7L173.7 -444.5L173.1 -453.3L172.4 -462.2Z" fill="#ffd700"/>
<path d="M172.4 -462.2L173.1 -453.3L173.7 -444.5L174.3 -435.7L174.8 -426.9L175.3 -418.0L175.8 -409.2L176.2 -400.4L176.7 -391.6L177.1 -382.7L177.5 -373.9L178.0 -365.1L178.4 -356.2L178.8 -347.4L179.3 -338.5L179.7 -329.7L180.2 -320.9L180.7 -312.1L181.2 -303.2L181.8 -294.4L182.3 -285.6L182.9 -276.8L183.6 -267.9L184.2 -259.1L184.9 -250.3L185.6 -241.5L186.4 -232.7L187.3 -223.9L188.3 -215.2L189.4 -206.4L190.6 -197.7L192.0 -189.0L193.3 -180.2L194.6 -171.5L195.9 -162.8L197.1 -154.0L198.2 -145.3L199.4 -136.5L200.4 -127.7L201.5 -119.0L202.5 -110.2L203.6 -101.4L204.6 -92.6L205.6 -83.8L206.7 -75.0L207.8 -66.2L208.9 -57.5L210.0 -48.7L211.1 -40.0L212.4 -31.2L213.6 -22.5L215.0 -13.8L216.4 -5.2L217.8 3.4L219.4 12.1L221.1 20.6L222.9 29.2L224.9 37.8L227.0 46.3L229.1 54.9L231.4 63.4L233.7 71.8L236.2 80.3L238.6 88.7L241.2 97.0L243.7 105.4L246.4 113.6L249.2 121.9L252.2 130.0L255.3 138.2L258.5 146.3L261.7 154.3L265.0 162.3L268.3 170.4L271.8 178.3L275.5 186.0L279.5 193.5L284.0 200.7L288.8 207.7L293.8 214.5L298.9 221.1L304.3 227.5L309.8 233.7L315.4 239.8L321.1 245.9L326.9 251.8L332.9 257.3L339.2 262.4L345.9 266.9L346.1 254.9L341.3 248.4L336.6 241.9L332.0 235.4L327.4 228.7L322.9 222.0L318.6 215.2L314.3 208.3L310.1 201.4L306.1 194.3L302.4 187.1L298.8 179.7L295.3 172.2L292.0 164.6L288.9 157.0L286.0 149.3L283.3 141.4L280.8 133.5L278.3 125.6L275.8 117.6L273.4 109.6L270.9 101.7L268.3 93.8L265.7 85.9L263.0 77.9L260.4 70.0L257.8 62.1L255.3 54.1L252.8 46.2L250.4 38.2L248.2 30.2L246.0 22.1L244.1 14.0L242.3 5.9L240.7 -2.2L239.1 -10.4L237.6 -18.6L236.1 -26.9L234.7 -35.1L233.4 -43.4L232.0 -51.7L230.8 -60.0L229.6 -68.3L228.3 -76.7L227.2 -85.0L226.0 -93.4L224.9 -101.8L223.7 -110.1L222.6 -118.5L221.5 -126.9L220.3 -135.2L219.2 -143.6L218.0 -151.9L216.9 -160.2L215.6 -168.6L214.4 -176.9L213.2 -185.2L212.0 -193.5L210.9 -201.9L209.8 -210.2L208.8 -218.6L207.9 -226.9L207.1 -235.3L206.3 -243.7L205.6 -252.1L204.9 -260.5L204.2 -268.9L203.6 -277.3L202.9 -285.7L202.2 -294.1L201.6 -302.5L200.9 -310.9L200.2 -319.3L199.6 -327.7L198.9 -336.1L198.3 -344.5L197.6 -352.9L197.0 -361.3L196.4 -369.7L195.7 -378.1L195.1 -386.5L194.5 -394.9L193.9 -403.3L193.3 -411.7L192.7 -420.1L192.1 -428.5L191.5 -436.9L190.9 -445.3L190.4 -453.7L189.8 -462.2Z" fill="#ff00ff"/>
<path d="M158.2 -462.2L158.7 -454.2L159.2 -446.3L159.7 -438.4L160.2 -430.4L160.6 -422.5L161.1 -414.5L161.5 -406.6L161.9 -398.7L162.4 -390.7L162.8 -382.8L163.2 -374.8L163.7 -366.9L164.1 -359.0L164.6 -351.0L165.0 -343.1L165.5 -335.2L165.9 -327.2L166.4 -319.3L166.9 -311.4L167.5 -303.4L168.0 -295.5L168.6 -287.6L169.2 -279.7L169.8 -271.7L170.5 -263.8L171.2 -255.9L171.9 -248.0L172.7 -240.1L173.4 -232.2L174.2 -224.3L175.0 -216.4L175.8 -208.5L176.6 -200.6L177.5 -192.7L178.4 -184.8L179.3 -176.9L180.2 -169.0L181.1 -161.1L182.0 -153.2L182.9 -145.3L183.8 -137.4L184.6 -129.5L185.5 -121.6L186.4 -113.7L187.2 -105.8L188.1 -97.9L189.0 -90.0L189.9 -82.1L190.8 -74.2L191.7 -66.3L192.7 -58.5L193.6 -50.6L194.6 -42.7L195.6 -34.8L196.7 -27.0L197.7 -19.1L198.9 -11.3L200.0 -3.5L201.2 4.3L202.5 12.1L203.8 19.9L205.1 27.7L206.6 35.5L208.1 43.3L209.6 51.1L211.2 58.9L212.9 66.6L214.6 74.3L216.4 82.0L218.3 89.7L220.2 97.3L222.2 104.9L224.3 112.5L226.5 120.0L229.0 127.4L231.5 134.8L234.2 142.2L236.9 149.6L239.6 156.9L242.5 164.1L245.4 171.4L248.4 178.5L251.5 185.6L254.7 192.7L258.0 199.7L261.4 206.7L265.0 213.5L268.9 220.1L273.0 226.5L277.4 232.8L281.8 238.8L286.5 244.7L291.4 250.4L296.4 256.0L301.6 261.2L306.9 266.4L312.5 271.2L318.3 275.5L324.4 279.3L330.6 282.8L337.0 286.1L343.3 289.5L349.6 292.8L356.0 296.1L362.4 299.3L368.8 302.3L375.3 305.1L381.9 307.8L388.5 310.3L389.5 306.7L382.9 304.2L376.4 301.6L370.0 298.8L363.6 295.9L357.3 292.8L350.9 289.6L344.6 286.3L338.3 283.0L331.9 279.7L325.7 276.3L319.8 272.6L314.2 268.4L308.7 263.8L303.4 258.8L298.3 253.6L293.3 248.2L288.5 242.6L283.9 236.8L279.4 230.8L275.1 224.6L271.1 218.3L267.2 211.9L263.7 205.2L260.3 198.3L257.0 191.3L253.8 184.3L250.7 177.3L247.7 170.1L244.7 163.0L241.9 155.7L239.1 148.5L236.4 141.2L233.8 133.8L231.2 126.5L228.8 119.1L226.5 111.6L224.4 104.1L222.4 96.6L220.5 89.0L218.6 81.4L216.8 73.7L215.0 66.0L213.4 58.3L211.7 50.5L210.2 42.8L208.7 35.0L207.3 27.2L205.9 19.5L204.6 11.7L203.3 3.9L202.1 -3.9L201.0 -11.7L199.9 -19.5L198.8 -27.4L197.7 -35.2L196.7 -43.1L195.7 -50.9L194.8 -58.8L193.8 -66.7L192.9 -74.6L192.0 -82.4L191.1 -90.3L190.2 -98.2L189.3 -106.1L188.5 -114.0L187.6 -121.9L186.7 -129.8L185.8 -137.7L185.0 -145.6L184.1 -153.5L183.2 -161.4L182.2 -169.3L181.3 -177.2L180.4 -185.1L179.6 -193.0L178.7 -200.9L177.8 -208.7L177.0 -216.6L176.2 -224.5L175.5 -232.4L174.7 -240.3L174.0 -248.2L173.3 -256.1L172.6 -264.0L171.9 -272.0L171.2 -279.9L170.6 -287.8L170.0 -295.7L169.5 -303.6L169.0 -311.5L168.5 -319.5L168.0 -327.4L167.5 -335.3L167.0 -343.2L166.6 -351.2L166.1 -359.1L165.7 -367.0L165.2 -375.0L164.8 -382.9L164.4 -390.9L163.9 -398.8L163.5 -406.7L163.0 -414.7L162.6 -422.6L162.1 -430.6L161.7 -438.5L161.2 -446.4L160.6 -454.4L160.1 -462.3Z" fill="#0000ff"/>
<path d="M132.9 -462.2L133.7 -455.0L134.3 -447.7L134.7 -440.5L135.1 -433.3L135.4 -426.1L135.8 -418.8L136.1 -411.6L136.3 -404.4L136.6 -397.1L136.8 -389.9L137.0 -382.6L137.2 -375.4L137.4 -368.1L137.6 -360.9L137.8 -353.6L138.0 -346.4L138.3 -339.1L138.5 -331.9L138.7 -324.6L139.0 -317.4L139.3 -310.1L139.6 -302.9L139.9 -295.7L140.3 -288.4L140.8 -281.2L141.3 -274.0L141.8 -266.8L142.4 -259.5L143.0 -252.3L143.6 -245.1L144.1 -237.9L144.7 -230.7L145.2 -223.4L145.7 -216.2L146.1 -209.0L146.6 -201.8L147.0 -194.5L147.4 -187.3L147.9 -180.1L148.3 -172.8L148.8 -165.6L149.3 -158.4L149.8 -151.2L150.3 -143.9L150.8 -136.7L151.3 -129.5L151.9 -122.2L152.4 -115.0L152.9 -107.8L153.4 -100.6L154.0 -93.3L154.5 -86.1L155.1 -78.9L155.7 -71.7L156.2 -64.4L156.8 -57.2L157.4 -50.0L158.1 -42.8L158.7 -35.6L159.4 -28.4L160.0 -21.2L160.7 -14.0L161.5 -6.8L162.2 0.4L163.0 7.6L163.8 14.8L164.6 22.0L165.5 29.1L166.4 36.3L167.4 43.5L168.4 50.6L169.4 57.8L170.5 64.9L171.6 72.1L172.8 79.2L173.9 86.4L175.1 93.5L176.3 100.6L177.6 107.7L178.9 114.8L180.2 121.8L181.7 128.9L183.2 136.0L184.7 143.0L186.3 150.0L187.9 157.0L189.5 164.0L191.2 171.1L192.9 178.0L194.7 185.0L196.7 191.8L198.9 198.6L201.3 205.4L203.8 212.0L206.5 218.6L209.4 225.0L212.4 231.4L215.6 237.7L219.0 243.8L222.5 249.9L226.1 255.8L230.1 261.5L234.3 266.9L238.8 272.0L243.4 277.0L248.1 281.8L253.0 286.4L258.0 290.9L263.1 295.2L284.3 303.0L284.3 293.4L262.4 264.5L259.9 256.7L256.6 249.3L252.9 242.0L249.3 234.7L245.6 227.5L241.9 220.3L238.8 212.8L236.1 205.1L233.7 197.2L231.2 189.3L228.6 181.5L225.9 173.7L223.3 165.9L220.8 158.1L218.6 150.2L216.5 142.2L214.5 134.1L212.5 126.1L210.7 118.0L209.1 109.9L207.5 101.7L206.0 93.6L204.6 85.4L203.2 77.2L201.9 69.0L200.6 60.8L199.3 52.5L198.1 44.3L197.0 36.0L195.9 27.8L194.8 19.5L193.8 11.3L192.8 3.0L191.8 -5.2L190.9 -13.5L190.0 -21.8L189.2 -30.1L188.3 -38.4L187.5 -46.7L186.8 -55.0L186.0 -63.3L185.3 -71.6L184.5 -79.9L183.8 -88.2L183.0 -96.5L182.3 -104.8L181.6 -113.1L180.8 -121.4L180.0 -129.7L179.2 -138.0L178.4 -146.3L177.6 -154.6L176.7 -162.9L175.8 -171.2L174.8 -179.4L173.9 -187.7L172.9 -196.0L171.9 -204.3L171.0 -212.5L170.2 -220.8L169.4 -229.1L168.6 -237.4L167.9 -245.7L167.2 -254.0L166.5 -262.3L165.9 -270.7L165.3 -279.0L164.7 -287.3L164.1 -295.6L163.5 -303.9L163.0 -312.2L162.5 -320.6L162.0 -328.9L161.5 -337.2L161.0 -345.5L160.5 -353.9L160.0 -362.2L159.5 -370.5L159.1 -378.9L158.6 -387.2L158.2 -395.5L157.7 -403.8L157.3 -412.2L156.8 -420.5L156.4 -428.8L155.9 -437.2L155.4 -445.5L155.0 -453.8L154.5 -462.2Z" fill="#00ffff"/>
<path d="M141.0 -462.2L141.5 -453.2L142.0 -444.3L142.3 -435.3L142.7 -426.4L143.0 -417.5L143.3 -408.5L143.6 -399.6L143.9 -390.6L144.2 -381.7L144.5 -372.7L144.7 -363.8L145.0 -354.8L145.3 -345.9L145.6 -337.0L145.9 -328.0L146.2 -319.1L146.6 -310.1L147.0 -301.2L147.4 -292.3L147.8 -283.3L148.4 -274.4L148.9 -265.5L149.6 -256.6L150.2 -247.6L150.8 -238.7L151.4 -229.8L152.0 -220.9L152.6 -211.9L153.2 -203.0L153.7 -194.1L154.3 -185.1L154.9 -176.2L155.5 -167.3L156.1 -158.4L156.8 -149.5L157.5 -140.6L158.2 -131.6L158.9 -122.7L159.6 -113.8L160.3 -104.9L161.1 -95.9L161.9 -87.0L162.6 -78.1L163.5 -69.2L164.3 -60.3L165.2 -51.4L166.0 -42.5L167.0 -33.6L167.9 -24.7L168.9 -15.9L169.9 -7.0L171.0 1.8L172.1 10.7L173.3 19.5L174.6 28.3L175.9 37.1L177.4 45.9L178.9 54.7L180.5 63.5L182.1 72.2L183.8 81.0L185.4 89.8L187.1 98.5L188.7 107.3L190.3 116.1L191.8 124.9L193.4 133.6L195.2 142.4L197.1 151.0L199.2 159.6L201.7 168.1L204.5 176.5L207.5 184.8L210.5 193.0L213.7 201.2L217.2 209.2L220.7 217.2L224.3 225.2L228.2 233.0L232.3 240.5L236.8 247.9L241.7 255.0L247.0 261.4L252.9 267.2L259.2 272.7L265.5 278.1L271.8 283.3L278.2 288.4L284.8 293.4L262.4 264.5L262.4 273.0L257.7 266.3L252.9 259.8L247.9 253.4L242.9 247.1L238.0 240.6L233.6 233.8L229.4 226.7L225.5 219.3L221.9 211.9L218.6 204.2L215.5 196.4L212.5 188.6L209.5 180.7L206.7 172.8L204.0 164.8L201.6 156.8L199.4 148.6L197.5 140.4L195.6 132.1L193.9 123.8L192.3 115.4L190.7 107.1L189.1 98.7L187.5 90.3L186.0 82.0L184.5 73.6L183.1 65.2L181.7 56.8L180.3 48.4L179.0 40.0L177.7 31.6L176.5 23.1L175.3 14.7L174.3 6.3L173.2 -2.2L172.2 -10.6L171.3 -19.1L170.3 -27.6L169.4 -36.1L168.5 -44.5L167.6 -53.0L166.8 -61.5L165.9 -70.0L165.1 -78.5L164.3 -87.0L163.5 -95.5L162.8 -104.0L162.1 -112.5L161.3 -121.1L160.6 -129.6L159.9 -138.1L159.2 -146.6L158.6 -155.1L157.9 -163.6L157.3 -172.1L156.7 -180.6L156.1 -189.1L155.5 -197.7L155.0 -206.2L154.4 -214.7L153.9 -223.2L153.4 -231.8L152.9 -240.3L152.3 -248.8L151.8 -257.3L151.4 -265.9L150.9 -274.4L150.4 -282.9L150.0 -291.4L149.6 -300.0L149.3 -308.5L148.9 -317.0L148.6 -325.6L148.3 -334.1L147.9 -342.7L147.6 -351.2L147.3 -359.7L147.1 -368.3L146.8 -376.8L146.5 -385.3L146.2 -393.9L145.9 -402.4L145.5 -411.0L145.2 -419.5L144.9 -428.0L144.5 -436.6L144.1 -445.1L143.7 -453.6L143.2 -462.2Z" fill="#ffd700"/>
<path d="M143.2 -462.2L143.7 -453.6L144.1 -445.1L144.5 -436.6L144.9 -428.0L145.2 -419.5L145.5 -411.0L145.9 -402.4L146.2 -393.9L146.5 -385.3L146.8 -376.8L147.1 -368.3L147.3 -359.7L147.6 -351.2L147.9 -342.7L148.3 -334.1L148.6 -325.6L148.9 -317.0L149.3 -308.5L149.6 -300.0L150.0 -291.4L150.4 -282.9L150.9 -274.4L151.4 -265.9L151.8 -257.3L152.3 -248.8L152.9 -240.3L153.4 -231.8L153.9 -223.2L154.4 -214.7L155.0 -206.2L155.5 -197.7L156.1 -189.1L156.7 -180.6L157.3 -172.1L157.9 -163.6L158.6 -155.1L159.2 -146.6L159.9 -138.1L160.6 -129.6L161.3 -121.1L162.1 -112.5L162.8 -104.0L163.5 -95.5L164.3 -87.0L165.1 -78.5L165.9 -70.0L166.8 -61.5L167.6 -53.0L168.5 -44.5L169.4 -36.1L170.3 -27.6L171.3 -19.1L172.2 -10.6L173.2 -2.2L174.3 6.3L175.3 14.7L176.5 23.1L177.7 31.6L179.0 40.0L180.3 48.4L181.7 56.8L183.1 65.2L184.5 73.6L186.0 82.0L187.5 90.3L189.1 98.7L190.7 107.1L192.3 115.4L193.9 123.8L195.6 132.1L197.5 140.4L199.4 148.6L201.6 156.8L204.0 164.8L206.7 172.8L209.5 180.7L212.5 188.6L215.5 196.4L218.6 204.2L221.9 211.9L225.5 219.3L229.4 226.7L233.6 233.8L238.0 240.6L242.9 247.1L247.9 253.4L252.9 259.8L257.7 266.3L262.4 273.0L262.4 264.5L259.9 256.7L256.6 249.3L252.9 242.0L249.3 234.7L245.6 227.5L241.9 220.3L238.8 212.8L236.1 205.1L233.7 197.2L231.2 189.3L228.6 181.5L225.9 173.7L223.3 165.9L220.8 158.1L218.6 150.2L216.5 142.2L214.5 134.1L212.5 126.1L210.7 118.0L209.1 109.9L207.5 101.7L206.0 93.6L204.6 85.4L203.2 77.2L201.9 69.0L200.6 60.8L199.3 52.5L198.1 44.3L197.0 36.0L195.9 27.8L194.8 19.5L193.8 11.3L192.8 3.0L191.8 -5.2L190.9 -13.5L190.0 -21.8L189.2 -30.1L188.3 -38.4L187.5 -46.7L186.8 -55.0L186.0 -63.3L185.3 -71.6L184.5 -79.9L183.8 -88.2L183.0 -96.5L182.3 -104.8L181.6 -113.1L180.8 -121.4L180.0 -129.7L179.2 -138.0L178.4 -146.3L177.6 -154.6L176.7 -162.9L175.8 -171.2L174.8 -179.4L173.9 -187.7L172.9 -196.0L171.9 -204.3L171.0 -212.5L170.2 -220.8L169.4 -229.1L168.6 -237.4L167.9 -245.7L167.2 -254.0L166.5 -262.3L165.9 -270.7L165.3 -279.0L164.7 -287.3L164.1 -295.6L163.5 -303.9L163.0 -312.2L162.5 -320.6L162.0 -328.9L161.5 -337.2L161.0 -345.5L160.5 -353.9L160.0 -362.2L159.5 -370.5L159.1 -378.9L158.6 -387.2L158.2 -395.5L157.7 -403.8L157.3 -412.2L156.8 -420.5L156.4 -428.8L155.9 -437.2L155.4 -445.5L155.0 -453.8L154.5 -462.2Z" fill="#ff00ff"/>
<path d="M132.9 -462.2L133.7 -455.0L134.3 -447.7L134.7 -440.5L135.1 -433.3L135.4 -426.1L135.8 -418.8L136.1 -411.6L136.3 -404.4L136.6 -397.1L136.8 -389.9L137.0 -382.6L137.2 -375.4L137.4 -368.1L137.6 -360.9L137.8 -353.6L138.0 -346.4L138.3 -339.1L138.5 -331.9L138.7 -324.6L139.0 -317.4L139.3 -310.1L139.6 -302.9L139.9 -295.7L140.3 -288.4L140.8 -281.2L141.3 -274.0L141.8 -266.8L142.4 -259.5L143.0 -252.3L143.6 -245.1L144.1 -237.9L144.7 -230.7L145.2 -223.4L145.7 -216.2L146.1 -209.0L146.6 -201.8L147.0 -194.5L147.4 -187.3L147.9 -180.1L148.3 -172.8L148.8 -165.6L149.3 -158.4L149.8 -151.2L150.3 -143.9L150.8 -136.7L151.3 -129.5L151.9 -122.2L152.4 -115.0L152.9 -107.8L153.4 -100.6L154.0 -93.3L154.5 -86.1L155.1 -78.9L155.7 -71.7L156.2 -64.4L156.8 -57.2L157.4 -50.0L158.1 -42.8L158.7 -35.6L159.4 -28.4L160.0 -21.2L160.7 -14.0L161.5 -6.8L162.2 0.4L163.0 7.6L163.8 14.8L164.6 22.0L165.5 29.1L166.4 36.3L167.4 43.5L168.4 50.6L169.4 57.8L170.5 64.9L171.6 72.1L172.8 79.2L173.9 86.4L175.1 93.5L176.3 100.6L177.6 107.7L178.9 114.8L180.2 121.8L181.7 128.9L183.2 136.0L184.7 143.0L186.3 150.0L187.9 157.0L189.5 164.0L191.2 171.1L192.9 178.0L194.7 185.0L196.7 191.8L198.9 198.6L201.3 205.4L203.8 212.0L206.5 218.6L209.4 225.0L212.4 231.4L215.6 237.7L219.0 243.8L222.5 249.9L226.1 255.8L230.1 261.5L234.3 266.9L238.8 272.0L243.4 277.0L248.1 281.8L253.0 286.4L258.0 290.9L263.1 295.2L264.3 293.5L259.1 289.2L254.2 284.8L249.4 280.2L244.7 275.4L240.1 270.5L235.6 265.4L231.4 260.1L227.6 254.6L223.9 248.8L220.5 242.7L217.2 236.6L214.0 230.4L211.0 224.1L208.1 217.7L205.4 211.2L202.9 204.6L200.5 197.9L198.3 191.2L196.4 184.4L194.5 177.5L192.8 170.5L191.1 163.5L189.5 156.5L187.9 149.5L186.3 142.5L184.8 135.5L183.3 128.5L181.8 121.4L180.5 114.4L179.2 107.3L177.9 100.2L176.7 93.1L175.5 86.0L174.3 78.9L173.2 71.8L172.1 64.6L171.0 57.5L170.0 50.3L169.0 43.2L168.0 36.0L167.1 28.9L166.2 21.7L165.3 14.5L164.5 7.4L163.8 0.2L163.0 -7.0L162.3 -14.2L161.6 -21.4L160.9 -28.6L160.3 -35.8L159.6 -43.0L159.0 -50.2L158.4 -57.4L157.8 -64.6L157.2 -71.8L156.6 -79.0L156.1 -86.3L155.5 -93.5L155.0 -100.7L154.4 -107.9L153.9 -115.2L153.4 -122.4L152.9 -129.6L152.4 -136.8L151.9 -144.1L151.3 -151.3L150.8 -158.5L150.3 -165.7L149.9 -173.0L149.4 -180.2L149.0 -187.4L148.5 -194.6L148.1 -201.9L147.6 -209.1L147.2 -216.3L146.7 -223.6L146.2 -230.8L145.6 -238.0L145.1 -245.3L144.5 -252.5L143.9 -259.7L143.3 -266.9L142.7 -274.1L142.2 -281.3L141.8 -288.5L141.4 -295.8L141.1 -303.0L140.8 -310.2L140.5 -317.5L140.2 -324.7L140.0 -331.9L139.7 -339.2L139.5 -346.4L139.3 -353.7L139.1 -360.9L138.9 -368.2L138.7 -375.4L138.5 -382.7L138.3 -389.9L138.0 -397.2L137.8 -404.4L137.5 -411.7L137.2 -418.9L136.9 -426.2L136.5 -433.4L136.2 -440.6L135.7 -447.9L135.1 -455.1L134.3 -462.4Z" fill="#0000ff"/>
<path d="M320.8 -462.2L322.5 -452.4L324.2 -442.6L325.9 -432.9L327.6 -423.1L329.3 -413.4L331.0 -403.6L332.7 -393.8L334.4 -384.1L336.1 -374.3L337.8 -364.6L339.6 -354.8L341.3 -345.1L343.1 -335.3L345.0 -325.6L346.8 -315.9L348.6 -306.2L350.5 -296.4L352.3 -286.7L354.2 -277.0L356.1 -267.2L358.1 -257.6L360.1 -247.9L362.3 -238.2L364.5 -228.6L366.8 -219.1L369.1 -209.5L371.6 -200.0L374.2 -190.5L376.8 -181.0L379.5 -171.5L382.3 -162.0L385.2 -152.6L388.1 -143.2L391.0 -133.8L394.1 -124.5L397.1 -115.2L400.2 -106.0L403.4 -96.7L406.7 -87.5L410.0 -78.3L413.4 -69.1L416.9 -59.9L420.5 -50.8L424.2 -41.8L428.0 -32.8L431.9 -23.9L435.9 -15.1L439.9 -6.4L444.2 2.2L448.7 10.8L453.3 19.3L458.0 27.7L462.9 36.0L467.9 44.2L472.9 52.3L478.0 60.3L483.2 68.2L488.6 76.2L494.0 84.0L499.6 91.7L505.4 99.3L511.2 106.6L517.2 113.7L523.4 120.5L529.8 127.2L536.4 133.7L543.1 140.1L549.9 146.4L556.9 152.5L563.9 158.4L571.1 164.2L578.2 169.9L585.4 175.4L592.7 180.7L600.1 186.0L607.6 191.1L615.2 196.1L622.8 201.0L630.6 205.6L638.3 210.1L646.2 214.4L654.1 218.4L662.1 222.3L670.2 226.0L678.3 229.6L686.5 233.0L694.7 236.3L703.0 239.5L711.2 242.6L719.5 245.7L727.8 248.7L736.2 251.6L744.5 254.4L752.9 257.1L761.3 259.7L769.7 262.2L778.2 264.6L786.6 266.9L795.1 269.1L803.6 271.2L812.1 273.3L820.7 275.3L829.2 277.3L837.8 279.2L846.3 281.0L854.9 282.7L863.5 284.4L872.1 286.0L880.7 287.5L889.3 289.0L897.9 290.4L906.5 291.8L915.1 293.1L923.8 294.4L932.4 295.7L941.1 296.9L949.7 298.1L958.4 299.2L967.0 300.3L975.7 301.3L984.3 302.3L993.0 303.2L1001.7 304.1L1010.3 305.0L1019.0 305.9L1027.7 306.7L1036.3 307.5L1045.0 308.3L1053.7 309.1L1062.4 309.9L1071.0 310.6L1079.7 311.3L1088.4 311.9L1097.1 312.6L1105.8 313.2L1114.5 313.7L1123.2 314.2L1131.9 314.7L1140.6 315.1" fill="none" stroke="#000" stroke-width="1.6" stroke-dasharray="7 2.9"/>
</g>
<line x1="597.72" y1="201.9" x2="597.72" y2="294.6" stroke="#000" stroke-width="4.8" stroke-dasharray="17.2 8.1"/>
<line x1="681.24" y1="290" x2="681.24" y2="336" stroke="#000" stroke-width="1.3"/>
<path d="M674.64 283.30L687.84 283.30L681.24 292.80Z" fill="#000"/>
<path d="M674.64 300.20L687.84 300.20L681.24 308.00Z" fill="#fff"/>
<path d="M674.64 308.20L687.84 308.20L681.24 317.80Z" fill="#000"/>
<path d="M674.64 333.40L687.84 333.40L681.24 343.80Z" fill="#000"/>
<rect x="514.20" y="193.60" width="208.80" height="151.30" fill="none" stroke="#000" stroke-width="1.5"/>
<text x="503.8" y="309.90" font-size="20.4" class="c" text-anchor="end">0.1</text>
<text x="503.8" y="225.30" font-size="20.4" class="c" text-anchor="end">0.2</text>
<text x="516.6" y="368.5" font-size="20.4" class="c" text-anchor="middle">0.2</text>
<text x="725.8" y="368.3" font-size="20.4" class="c" text-anchor="middle">0.3</text>
<rect x="374.6" y="427.3" width="144" height="76.3" fill="none" stroke="#000" stroke-width="1.1"/>
<path d="M519.00 426.96L590.60 345.20M578.6 353.1L590.60 345.20L585.2 358.6" fill="none" stroke="#000" stroke-width="1.3"/>
<rect x="87.60" y="19.20" width="719.00" height="509.70" fill="none" stroke="#000" stroke-width="1.7"/>
<text transform="translate(77.4 539.10) scale(0.975 1.04)" font-size="28" text-anchor="end" class="b">0</text>
<text transform="translate(77.4 437.16) scale(0.975 1.04)" font-size="28" text-anchor="end" class="b">0.2</text>
<text transform="translate(77.4 335.22) scale(0.975 1.04)" font-size="28" text-anchor="end" class="b">0.4</text>
<text transform="translate(77.4 233.28) scale(0.975 1.04)" font-size="28" text-anchor="end" class="b">0.6</text>
<text transform="translate(77.4 131.34) scale(0.975 1.04)" font-size="28" text-anchor="end" class="b">0.8</text>
<text transform="translate(77.4 29.40) scale(0.975 1.04)" font-size="28" text-anchor="end" class="b">1</text>
<text transform="translate(90.40 554.7) scale(0.975 1.04)" font-size="28" text-anchor="middle" class="b">0</text>
<text transform="translate(234.20 554.7) scale(0.975 1.04)" font-size="28" text-anchor="middle" class="b">0.1</text>
<text transform="translate(378.00 554.7) scale(0.975 1.04)" font-size="28" text-anchor="middle" class="b">0.2</text>
<text transform="translate(521.80 554.7) scale(0.975 1.04)" font-size="28" text-anchor="middle" class="b">0.3</text>
<text transform="translate(665.60 554.7) scale(0.975 1.04)" font-size="28" text-anchor="middle" class="b">0.4</text>
<text transform="translate(809.40 554.7) scale(0.975 1.04)" font-size="28" text-anchor="middle" class="b">0.5</text>
<text x="1.2" y="43.4" font-size="42" class="c">(b)</text>
<text x="446.6" y="584.2" font-size="42" text-anchor="middle" class="b">r</text>
<text transform="translate(36.1 274.4) rotate(-90)" font-size="41.5" text-anchor="middle" stroke="#000" stroke-width="0.9">σ</text>
<text x="417.4" y="80.8" font-size="32.6" class="b">k=0</text>
<text x="194.6" y="80.4" font-size="32.6" class="b">k=1</text>
<text x="140.5" y="131.5" font-size="32.6" class="b">k=2</text>
<text x="93.4" y="182.6" font-size="32.6" class="b">k=3</text>
<text x="733.6" y="471.8" font-size="28" class="b">BB</text>
<text x="611.4" y="61.8" font-size="23.5" class="c">period</text>
<text x="717.0" y="41.0" font-size="20.5" text-anchor="end" class="c">2</text>
<text x="717.0" y="58.6" font-size="20.5" text-anchor="end" class="c">4</text>
<text x="717.0" y="76.9" font-size="20.5" text-anchor="end" class="c">8</text>
<text x="697.0" y="77.6" font-size="24" text-anchor="middle" class="c">≥</text>
<path d="M726.3 34.8h4M726.3 50.8h4M726.3 67.0h4" stroke="#000" stroke-width="1.25" fill="none"/>
<rect x="740.4" y="30.0" width="46.8" height="8.8" fill="#ff00ff"/>
<rect x="740.4" y="46.2" width="46.8" height="8.8" fill="#00ffff"/>
<rect x="740.4" y="62.4" width="46.8" height="8.8" fill="#0000ff"/>
</svg></body></html>
